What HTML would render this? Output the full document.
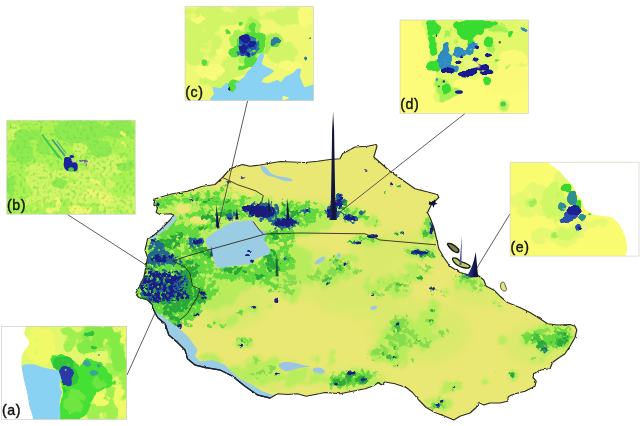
<!DOCTYPE html>
<html lang="en"><head><meta charset="utf-8"><title>Population density map</title>
<style>
html,body{margin:0;padding:0;background:#fff;}
body{width:640px;height:426px;overflow:hidden;font-family:"Liberation Sans",sans-serif;}
svg{display:block;}
svg text{font-family:"Liberation Sans",sans-serif;fill:#111;}
</style></head><body>
<svg width="640" height="426" viewBox="0 0 640 426">
<defs>
<clipPath id="mapclip"><polygon points="155.0,198.8 172.5,193.8 187.5,191.2 202.5,186.2 215.0,184.5 222.5,177.5 230.0,168.8 242.5,164.5 250.0,166.2 260.0,165.0 280.0,161.5 305.0,162.5 317.5,161.2 330.0,159.5 340.0,158.8 342.5,153.8 355.0,147.0 367.5,146.2 376.2,144.5 377.0,146.2 373.8,157.0 390.0,171.2 415.0,188.8 437.5,194.5 438.8,197.5 435.0,201.2 431.2,205.0 427.5,212.5 430.0,217.5 433.8,227.5 437.5,242.5 438.8,248.8 443.8,257.5 450.0,266.2 460.0,272.5 467.5,274.5 477.5,275.0 483.8,280.0 486.2,286.2 493.8,290.0 500.0,296.2 507.5,302.5 515.0,305.5 522.5,308.8 530.0,312.5 540.0,318.8 547.5,323.8 557.5,325.0 570.0,324.5 575.0,326.2 576.8,330.0 575.0,337.5 570.0,346.2 565.0,353.8 557.5,358.8 552.5,362.5 550.0,368.8 540.0,370.0 533.8,373.8 533.0,377.5 536.2,381.2 535.0,386.2 525.0,391.2 515.0,393.8 508.8,396.2 507.5,401.2 500.0,403.0 490.0,403.0 483.8,405.0 478.8,402.5 476.2,407.5 470.0,413.0 460.0,416.2 453.8,420.0 445.0,416.2 435.0,412.5 426.2,407.5 418.8,400.0 412.5,392.5 406.2,387.5 395.0,383.8 385.0,382.0 381.2,385.0 378.8,382.5 372.5,386.2 365.0,388.8 352.5,391.2 340.0,393.8 325.0,392.5 315.0,394.5 306.2,396.2 297.5,393.8 287.5,394.5 277.5,393.8 271.2,397.5 270.0,398.0 257.5,395.0 245.0,386.2 232.5,376.2 220.0,370.0 205.0,367.5 195.0,365.0 187.5,358.8 185.0,350.0 177.5,342.5 168.8,335.0 165.0,323.8 157.5,317.5 152.5,307.5 152.5,305.0 147.5,300.0 138.8,297.5 135.5,293.8 140.0,285.0 143.8,277.5 146.2,265.0 147.5,257.5 145.0,250.0 146.2,245.0 147.5,238.8 152.5,236.2 160.0,230.0 165.0,225.0 170.0,220.0 173.8,215.0 170.0,213.8 160.0,214.5 156.2,212.5 157.5,207.5 153.8,205.0"/></clipPath>
<filter id="b05" x="-30%" y="-30%" width="160%" height="160%"><feGaussianBlur stdDeviation="0.5"/></filter>
<filter id="b1" x="-30%" y="-30%" width="160%" height="160%"><feGaussianBlur stdDeviation="1"/></filter>
<filter id="b2" x="-40%" y="-40%" width="180%" height="180%"><feGaussianBlur stdDeviation="2"/></filter>
<filter id="b3" x="-50%" y="-50%" width="200%" height="200%"><feGaussianBlur stdDeviation="3"/></filter>
<filter id="b5" x="-60%" y="-60%" width="220%" height="220%"><feGaussianBlur stdDeviation="5"/></filter>
<filter id="spot" x="0" y="0" width="640" height="426" filterUnits="userSpaceOnUse">
<feTurbulence type="fractalNoise" baseFrequency="0.35" numOctaves="2" seed="8" result="n"/>
<feDisplacementMap in="SourceGraphic" in2="n" scale="3" xChannelSelector="R" yChannelSelector="G" result="d"/>
<feGaussianBlur in="d" stdDeviation="0.45"/>
</filter>
<filter id="wig" x="0" y="0" width="640" height="426" filterUnits="userSpaceOnUse">
<feTurbulence type="fractalNoise" baseFrequency="0.25" numOctaves="2" seed="4" result="n"/>
<feDisplacementMap in="SourceGraphic" in2="n" scale="2.2" xChannelSelector="R" yChannelSelector="G"/>
</filter>
<linearGradient id="sg" x1="0" y1="0" x2="1" y2="0"><stop offset="0" stop-color="#26347c"/><stop offset="0.5" stop-color="#0e1232"/><stop offset="1" stop-color="#161e54"/></linearGradient>
<linearGradient id="sg2" x1="0" y1="0" x2="1" y2="0"><stop offset="0" stop-color="#2c4aa0"/><stop offset="0.6" stop-color="#121a50"/><stop offset="1" stop-color="#0c1030"/></linearGradient>
<clipPath id="c_a"><rect x="1.60" y="326.30" width="125.10" height="93.00"/></clipPath>
<filter id="grain_b" x="0" y="0" width="640" height="426" filterUnits="userSpaceOnUse" color-interpolation-filters="sRGB">
<feTurbulence type="fractalNoise" baseFrequency="0.3" numOctaves="2" seed="9" result="n"/>
<feColorMatrix in="n" type="matrix" values="0 0 0 0 0.45  0 0 0 0 0.84  0 0 0 0 0.30  2.5 0 0 0 -1.3" result="c"/>
<feComposite in="c" in2="SourceAlpha" operator="in"/>
</filter>
<clipPath id="c_b"><rect x="6.75" y="120.25" width="128.50" height="94.00"/></clipPath>
<clipPath id="c_c"><rect x="185.00" y="6.50" width="128.50" height="94.00"/></clipPath>
<clipPath id="c_d"><rect x="400.00" y="20.00" width="128.50" height="93.40"/></clipPath>
<clipPath id="c_e"><rect x="510.10" y="162.20" width="128.90" height="93.90"/></clipPath>
<filter id="m1" x="0" y="0" width="640" height="426" filterUnits="userSpaceOnUse" color-interpolation-filters="sRGB">
<feGaussianBlur in="SourceAlpha" stdDeviation="2.5" result="a"/>
<feTurbulence type="fractalNoise" baseFrequency="0.1" numOctaves="3" seed="2" result="n"/>
<feColorMatrix in="n" type="matrix" values="0 0 0 0 0  0 0 0 0 0  0 0 0 0 0  1 0 0 0 0" result="na"/>
<feComposite in="a" in2="na" operator="arithmetic" k1="0" k2="0.3846" k3="0.6154" k4="0" result="s"/>
<feColorMatrix in="s" type="matrix" values="0 0 0 0 0  0 0 0 0 0  0 0 0 0 0  0 0 0 7.8000 -3.7000" result="m"/>
<feColorMatrix in="a" type="matrix" values="0 0 0 0 0  0 0 0 0 0  0 0 0 0 0  0 0 0 5 -0.4" result="g"/>
<feComposite in="m" in2="g" operator="in" result="mg"/>
<feMorphology in="SourceGraphic" operator="dilate" radius="2" result="d"/>
<feComponentTransfer in="d" result="c"><feFuncA type="linear" slope="200" intercept="0"/></feComponentTransfer>
<feComposite in="c" in2="mg" operator="in" result="cm"/>
<feGaussianBlur in="cm" stdDeviation="0.9"/>
</filter>
<filter id="my" x="0" y="0" width="640" height="426" filterUnits="userSpaceOnUse" color-interpolation-filters="sRGB">
<feGaussianBlur in="SourceAlpha" stdDeviation="2" result="a"/>
<feTurbulence type="fractalNoise" baseFrequency="0.12" numOctaves="3" seed="5" result="n"/>
<feColorMatrix in="n" type="matrix" values="0 0 0 0 0  0 0 0 0 0  0 0 0 0 0  1 0 0 0 0" result="na"/>
<feComposite in="a" in2="na" operator="arithmetic" k1="0" k2="0.4167" k3="0.5833" k4="0" result="s"/>
<feColorMatrix in="s" type="matrix" values="0 0 0 0 0  0 0 0 0 0  0 0 0 0 0  0 0 0 9.6000 -4.7000" result="m"/>
<feColorMatrix in="a" type="matrix" values="0 0 0 0 0  0 0 0 0 0  0 0 0 0 0  0 0 0 5 -0.4" result="g"/>
<feComposite in="m" in2="g" operator="in" result="mg"/>
<feMorphology in="SourceGraphic" operator="dilate" radius="2" result="d"/>
<feComponentTransfer in="d" result="c"><feFuncA type="linear" slope="200" intercept="0"/></feComponentTransfer>
<feComposite in="c" in2="mg" operator="in" result="cm"/>
<feGaussianBlur in="cm" stdDeviation="0.7"/>
</filter>
<filter id="m2" x="0" y="0" width="640" height="426" filterUnits="userSpaceOnUse" color-interpolation-filters="sRGB">
<feGaussianBlur in="SourceAlpha" stdDeviation="2.0" result="a"/>
<feTurbulence type="fractalNoise" baseFrequency="0.2" numOctaves="3" seed="7" result="n"/>
<feColorMatrix in="n" type="matrix" values="0 0 0 0 0  0 0 0 0 0  0 0 0 0 0  1 0 0 0 0" result="na"/>
<feComposite in="a" in2="na" operator="arithmetic" k1="0" k2="0.3333" k3="0.6667" k4="0" result="s"/>
<feColorMatrix in="s" type="matrix" values="0 0 0 0 0  0 0 0 0 0  0 0 0 0 0  0 0 0 12.0000 -6.1000" result="m"/>
<feColorMatrix in="a" type="matrix" values="0 0 0 0 0  0 0 0 0 0  0 0 0 0 0  0 0 0 5 -0.4" result="g"/>
<feComposite in="m" in2="g" operator="in" result="mg"/>
<feMorphology in="SourceGraphic" operator="dilate" radius="2" result="d"/>
<feComponentTransfer in="d" result="c"><feFuncA type="linear" slope="200" intercept="0"/></feComponentTransfer>
<feComposite in="c" in2="mg" operator="in" result="cm"/>
<feGaussianBlur in="cm" stdDeviation="0.6"/>
</filter>
<filter id="m3" x="0" y="0" width="640" height="426" filterUnits="userSpaceOnUse" color-interpolation-filters="sRGB">
<feGaussianBlur in="SourceAlpha" stdDeviation="1.6" result="a"/>
<feTurbulence type="fractalNoise" baseFrequency="0.25" numOctaves="3" seed="11" result="n"/>
<feColorMatrix in="n" type="matrix" values="0 0 0 0 0  0 0 0 0 0  0 0 0 0 0  1 0 0 0 0" result="na"/>
<feComposite in="a" in2="na" operator="arithmetic" k1="0" k2="0.3333" k3="0.6667" k4="0" result="s"/>
<feColorMatrix in="s" type="matrix" values="0 0 0 0 0  0 0 0 0 0  0 0 0 0 0  0 0 0 12.0000 -6.1000" result="m"/>
<feColorMatrix in="a" type="matrix" values="0 0 0 0 0  0 0 0 0 0  0 0 0 0 0  0 0 0 5 -0.4" result="g"/>
<feComposite in="m" in2="g" operator="in" result="mg"/>
<feMorphology in="SourceGraphic" operator="dilate" radius="2" result="d"/>
<feComponentTransfer in="d" result="c"><feFuncA type="linear" slope="200" intercept="0"/></feComponentTransfer>
<feComposite in="c" in2="mg" operator="in" result="cm"/>
<feGaussianBlur in="cm" stdDeviation="0.5"/>
</filter>
<filter id="m4" x="0" y="0" width="640" height="426" filterUnits="userSpaceOnUse" color-interpolation-filters="sRGB">
<feGaussianBlur in="SourceAlpha" stdDeviation="1.5" result="a"/>
<feTurbulence type="fractalNoise" baseFrequency="0.25" numOctaves="3" seed="13" result="n"/>
<feColorMatrix in="n" type="matrix" values="0 0 0 0 0  0 0 0 0 0  0 0 0 0 0  1 0 0 0 0" result="na"/>
<feComposite in="a" in2="na" operator="arithmetic" k1="0" k2="0.3333" k3="0.6667" k4="0" result="s"/>
<feColorMatrix in="s" type="matrix" values="0 0 0 0 0  0 0 0 0 0  0 0 0 0 0  0 0 0 12.0000 -6.1000" result="m"/>
<feColorMatrix in="a" type="matrix" values="0 0 0 0 0  0 0 0 0 0  0 0 0 0 0  0 0 0 5 -0.4" result="g"/>
<feComposite in="m" in2="g" operator="in" result="mg"/>
<feMorphology in="SourceGraphic" operator="dilate" radius="2" result="d"/>
<feComponentTransfer in="d" result="c"><feFuncA type="linear" slope="200" intercept="0"/></feComponentTransfer>
<feComposite in="c" in2="mg" operator="in" result="cm"/>
<feGaussianBlur in="cm" stdDeviation="0.5"/>
</filter>
<filter id="m5" x="0" y="0" width="640" height="426" filterUnits="userSpaceOnUse" color-interpolation-filters="sRGB">
<feGaussianBlur in="SourceAlpha" stdDeviation="1.0" result="a"/>
<feTurbulence type="fractalNoise" baseFrequency="0.3" numOctaves="3" seed="17" result="n"/>
<feColorMatrix in="n" type="matrix" values="0 0 0 0 0  0 0 0 0 0  0 0 0 0 0  1 0 0 0 0" result="na"/>
<feComposite in="a" in2="na" operator="arithmetic" k1="0" k2="0.3846" k3="0.6154" k4="0" result="s"/>
<feColorMatrix in="s" type="matrix" values="0 0 0 0 0  0 0 0 0 0  0 0 0 0 0  0 0 0 13.0000 -6.9000" result="m"/>
<feColorMatrix in="a" type="matrix" values="0 0 0 0 0  0 0 0 0 0  0 0 0 0 0  0 0 0 5 -0.4" result="g"/>
<feComposite in="m" in2="g" operator="in" result="mg"/>
<feMorphology in="SourceGraphic" operator="dilate" radius="2" result="d"/>
<feComponentTransfer in="d" result="c"><feFuncA type="linear" slope="200" intercept="0"/></feComponentTransfer>
<feComposite in="c" in2="mg" operator="in" result="cm"/>
<feGaussianBlur in="cm" stdDeviation="0.4"/>
</filter>
<filter id="i_lime" x="0" y="0" width="640" height="426" filterUnits="userSpaceOnUse" color-interpolation-filters="sRGB">
<feGaussianBlur in="SourceAlpha" stdDeviation="2.5" result="a"/>
<feTurbulence type="fractalNoise" baseFrequency="0.07" numOctaves="3" seed="21" result="n"/>
<feColorMatrix in="n" type="matrix" values="0 0 0 0 0  0 0 0 0 0  0 0 0 0 0  1 0 0 0 0" result="na"/>
<feComposite in="a" in2="na" operator="arithmetic" k1="0" k2="0.4348" k3="0.5652" k4="0" result="s"/>
<feColorMatrix in="s" type="matrix" values="0 0 0 0 0  0 0 0 0 0  0 0 0 0 0  0 0 0 11.5000 -5.2500" result="m"/>
<feColorMatrix in="a" type="matrix" values="0 0 0 0 0  0 0 0 0 0  0 0 0 0 0  0 0 0 5 -0.4" result="g"/>
<feComposite in="m" in2="g" operator="in" result="mg"/>
<feMorphology in="SourceGraphic" operator="dilate" radius="2" result="d"/>
<feComponentTransfer in="d" result="c"><feFuncA type="linear" slope="200" intercept="0"/></feComponentTransfer>
<feComposite in="c" in2="mg" operator="in" result="cm"/>
<feGaussianBlur in="cm" stdDeviation="0.6"/>
</filter>
<filter id="i_lgreen" x="0" y="0" width="640" height="426" filterUnits="userSpaceOnUse" color-interpolation-filters="sRGB">
<feGaussianBlur in="SourceAlpha" stdDeviation="2" result="a"/>
<feTurbulence type="fractalNoise" baseFrequency="0.09" numOctaves="3" seed="23" result="n"/>
<feColorMatrix in="n" type="matrix" values="0 0 0 0 0  0 0 0 0 0  0 0 0 0 0  1 0 0 0 0" result="na"/>
<feComposite in="a" in2="na" operator="arithmetic" k1="0" k2="0.4348" k3="0.5652" k4="0" result="s"/>
<feColorMatrix in="s" type="matrix" values="0 0 0 0 0  0 0 0 0 0  0 0 0 0 0  0 0 0 11.5000 -5.2500" result="m"/>
<feColorMatrix in="a" type="matrix" values="0 0 0 0 0  0 0 0 0 0  0 0 0 0 0  0 0 0 5 -0.4" result="g"/>
<feComposite in="m" in2="g" operator="in" result="mg"/>
<feMorphology in="SourceGraphic" operator="dilate" radius="2" result="d"/>
<feComponentTransfer in="d" result="c"><feFuncA type="linear" slope="200" intercept="0"/></feComponentTransfer>
<feComposite in="c" in2="mg" operator="in" result="cm"/>
<feGaussianBlur in="cm" stdDeviation="0.6"/>
</filter>
<filter id="i_green" x="0" y="0" width="640" height="426" filterUnits="userSpaceOnUse" color-interpolation-filters="sRGB">
<feGaussianBlur in="SourceAlpha" stdDeviation="1.5" result="a"/>
<feTurbulence type="fractalNoise" baseFrequency="0.12" numOctaves="3" seed="29" result="n"/>
<feColorMatrix in="n" type="matrix" values="0 0 0 0 0  0 0 0 0 0  0 0 0 0 0  1 0 0 0 0" result="na"/>
<feComposite in="a" in2="na" operator="arithmetic" k1="0" k2="0.4348" k3="0.5652" k4="0" result="s"/>
<feColorMatrix in="s" type="matrix" values="0 0 0 0 0  0 0 0 0 0  0 0 0 0 0  0 0 0 13.8000 -6.4000" result="m"/>
<feColorMatrix in="a" type="matrix" values="0 0 0 0 0  0 0 0 0 0  0 0 0 0 0  0 0 0 5 -0.4" result="g"/>
<feComposite in="m" in2="g" operator="in" result="mg"/>
<feMorphology in="SourceGraphic" operator="dilate" radius="2" result="d"/>
<feComponentTransfer in="d" result="c"><feFuncA type="linear" slope="200" intercept="0"/></feComponentTransfer>
<feComposite in="c" in2="mg" operator="in" result="cm"/>
<feGaussianBlur in="cm" stdDeviation="0.5"/>
</filter>
<filter id="i_dgreen" x="0" y="0" width="640" height="426" filterUnits="userSpaceOnUse" color-interpolation-filters="sRGB">
<feGaussianBlur in="SourceAlpha" stdDeviation="1.2" result="a"/>
<feTurbulence type="fractalNoise" baseFrequency="0.15" numOctaves="3" seed="31" result="n"/>
<feColorMatrix in="n" type="matrix" values="0 0 0 0 0  0 0 0 0 0  0 0 0 0 0  1 0 0 0 0" result="na"/>
<feComposite in="a" in2="na" operator="arithmetic" k1="0" k2="0.4348" k3="0.5652" k4="0" result="s"/>
<feColorMatrix in="s" type="matrix" values="0 0 0 0 0  0 0 0 0 0  0 0 0 0 0  0 0 0 13.8000 -6.4000" result="m"/>
<feColorMatrix in="a" type="matrix" values="0 0 0 0 0  0 0 0 0 0  0 0 0 0 0  0 0 0 5 -0.4" result="g"/>
<feComposite in="m" in2="g" operator="in" result="mg"/>
<feMorphology in="SourceGraphic" operator="dilate" radius="2" result="d"/>
<feComponentTransfer in="d" result="c"><feFuncA type="linear" slope="200" intercept="0"/></feComponentTransfer>
<feComposite in="c" in2="mg" operator="in" result="cm"/>
<feGaussianBlur in="cm" stdDeviation="0.5"/>
</filter>
<filter id="i_teal" x="0" y="0" width="640" height="426" filterUnits="userSpaceOnUse" color-interpolation-filters="sRGB">
<feGaussianBlur in="SourceAlpha" stdDeviation="1.0" result="a"/>
<feTurbulence type="fractalNoise" baseFrequency="0.15" numOctaves="3" seed="37" result="n"/>
<feColorMatrix in="n" type="matrix" values="0 0 0 0 0  0 0 0 0 0  0 0 0 0 0  1 0 0 0 0" result="na"/>
<feComposite in="a" in2="na" operator="arithmetic" k1="0" k2="0.4545" k3="0.5455" k4="0" result="s"/>
<feColorMatrix in="s" type="matrix" values="0 0 0 0 0  0 0 0 0 0  0 0 0 0 0  0 0 0 13.2000 -6.1000" result="m"/>
<feColorMatrix in="a" type="matrix" values="0 0 0 0 0  0 0 0 0 0  0 0 0 0 0  0 0 0 5 -0.4" result="g"/>
<feComposite in="m" in2="g" operator="in" result="mg"/>
<feMorphology in="SourceGraphic" operator="dilate" radius="2" result="d"/>
<feComponentTransfer in="d" result="c"><feFuncA type="linear" slope="200" intercept="0"/></feComponentTransfer>
<feComposite in="c" in2="mg" operator="in" result="cm"/>
<feGaussianBlur in="cm" stdDeviation="0.4"/>
</filter>
<filter id="i_blue" x="0" y="0" width="640" height="426" filterUnits="userSpaceOnUse" color-interpolation-filters="sRGB">
<feGaussianBlur in="SourceAlpha" stdDeviation="1.0" result="a"/>
<feTurbulence type="fractalNoise" baseFrequency="0.15" numOctaves="3" seed="41" result="n"/>
<feColorMatrix in="n" type="matrix" values="0 0 0 0 0  0 0 0 0 0  0 0 0 0 0  1 0 0 0 0" result="na"/>
<feComposite in="a" in2="na" operator="arithmetic" k1="0" k2="0.4545" k3="0.5455" k4="0" result="s"/>
<feColorMatrix in="s" type="matrix" values="0 0 0 0 0  0 0 0 0 0  0 0 0 0 0  0 0 0 13.2000 -6.1000" result="m"/>
<feColorMatrix in="a" type="matrix" values="0 0 0 0 0  0 0 0 0 0  0 0 0 0 0  0 0 0 5 -0.4" result="g"/>
<feComposite in="m" in2="g" operator="in" result="mg"/>
<feMorphology in="SourceGraphic" operator="dilate" radius="2" result="d"/>
<feComponentTransfer in="d" result="c"><feFuncA type="linear" slope="200" intercept="0"/></feComponentTransfer>
<feComposite in="c" in2="mg" operator="in" result="cm"/>
<feGaussianBlur in="cm" stdDeviation="0.4"/>
</filter>
<filter id="i_navy" x="0" y="0" width="640" height="426" filterUnits="userSpaceOnUse" color-interpolation-filters="sRGB">
<feGaussianBlur in="SourceAlpha" stdDeviation="0.8" result="a"/>
<feTurbulence type="fractalNoise" baseFrequency="0.2" numOctaves="3" seed="43" result="n"/>
<feColorMatrix in="n" type="matrix" values="0 0 0 0 0  0 0 0 0 0  0 0 0 0 0  1 0 0 0 0" result="na"/>
<feComposite in="a" in2="na" operator="arithmetic" k1="0" k2="0.4762" k3="0.5238" k4="0" result="s"/>
<feColorMatrix in="s" type="matrix" values="0 0 0 0 0  0 0 0 0 0  0 0 0 0 0  0 0 0 12.6000 -5.8000" result="m"/>
<feColorMatrix in="a" type="matrix" values="0 0 0 0 0  0 0 0 0 0  0 0 0 0 0  0 0 0 5 -0.4" result="g"/>
<feComposite in="m" in2="g" operator="in" result="mg"/>
<feMorphology in="SourceGraphic" operator="dilate" radius="2" result="d"/>
<feComponentTransfer in="d" result="c"><feFuncA type="linear" slope="200" intercept="0"/></feComponentTransfer>
<feComposite in="c" in2="mg" operator="in" result="cm"/>
<feGaussianBlur in="cm" stdDeviation="0.4"/>
</filter>
<filter id="i_yel" x="0" y="0" width="640" height="426" filterUnits="userSpaceOnUse" color-interpolation-filters="sRGB">
<feGaussianBlur in="SourceAlpha" stdDeviation="1.5" result="a"/>
<feTurbulence type="fractalNoise" baseFrequency="0.1" numOctaves="3" seed="47" result="n"/>
<feColorMatrix in="n" type="matrix" values="0 0 0 0 0  0 0 0 0 0  0 0 0 0 0  1 0 0 0 0" result="na"/>
<feComposite in="a" in2="na" operator="arithmetic" k1="0" k2="0.4348" k3="0.5652" k4="0" result="s"/>
<feColorMatrix in="s" type="matrix" values="0 0 0 0 0  0 0 0 0 0  0 0 0 0 0  0 0 0 13.8000 -6.4000" result="m"/>
<feColorMatrix in="a" type="matrix" values="0 0 0 0 0  0 0 0 0 0  0 0 0 0 0  0 0 0 5 -0.4" result="g"/>
<feComposite in="m" in2="g" operator="in" result="mg"/>
<feMorphology in="SourceGraphic" operator="dilate" radius="2" result="d"/>
<feComponentTransfer in="d" result="c"><feFuncA type="linear" slope="200" intercept="0"/></feComponentTransfer>
<feComposite in="c" in2="mg" operator="in" result="cm"/>
<feGaussianBlur in="cm" stdDeviation="0.5"/>
</filter>
<filter id="i_water" x="0" y="0" width="640" height="426" filterUnits="userSpaceOnUse" color-interpolation-filters="sRGB">
<feGaussianBlur in="SourceAlpha" stdDeviation="0.8" result="a"/>
<feTurbulence type="fractalNoise" baseFrequency="0.12" numOctaves="3" seed="53" result="n"/>
<feColorMatrix in="n" type="matrix" values="0 0 0 0 0  0 0 0 0 0  0 0 0 0 0  1 0 0 0 0" result="na"/>
<feComposite in="a" in2="na" operator="arithmetic" k1="0" k2="0.6250" k3="0.3750" k4="0" result="s"/>
<feColorMatrix in="s" type="matrix" values="0 0 0 0 0  0 0 0 0 0  0 0 0 0 0  0 0 0 12.8000 -5.9000" result="m"/>
<feColorMatrix in="a" type="matrix" values="0 0 0 0 0  0 0 0 0 0  0 0 0 0 0  0 0 0 5 -0.4" result="g"/>
<feComposite in="m" in2="g" operator="in" result="mg"/>
<feMorphology in="SourceGraphic" operator="dilate" radius="2" result="d"/>
<feComponentTransfer in="d" result="c"><feFuncA type="linear" slope="200" intercept="0"/></feComponentTransfer>
<feComposite in="c" in2="mg" operator="in" result="cm"/>
<feGaussianBlur in="cm" stdDeviation="0.4"/>
</filter>
</defs>
<rect width="640" height="426" fill="#ffffff"/>
<g clip-path="url(#mapclip)">
<polygon points="155.0,198.8 172.5,193.8 187.5,191.2 202.5,186.2 215.0,184.5 222.5,177.5 230.0,168.8 242.5,164.5 250.0,166.2 260.0,165.0 280.0,161.5 305.0,162.5 317.5,161.2 330.0,159.5 340.0,158.8 342.5,153.8 355.0,147.0 367.5,146.2 376.2,144.5 377.0,146.2 373.8,157.0 390.0,171.2 415.0,188.8 437.5,194.5 438.8,197.5 435.0,201.2 431.2,205.0 427.5,212.5 430.0,217.5 433.8,227.5 437.5,242.5 438.8,248.8 443.8,257.5 450.0,266.2 460.0,272.5 467.5,274.5 477.5,275.0 483.8,280.0 486.2,286.2 493.8,290.0 500.0,296.2 507.5,302.5 515.0,305.5 522.5,308.8 530.0,312.5 540.0,318.8 547.5,323.8 557.5,325.0 570.0,324.5 575.0,326.2 576.8,330.0 575.0,337.5 570.0,346.2 565.0,353.8 557.5,358.8 552.5,362.5 550.0,368.8 540.0,370.0 533.8,373.8 533.0,377.5 536.2,381.2 535.0,386.2 525.0,391.2 515.0,393.8 508.8,396.2 507.5,401.2 500.0,403.0 490.0,403.0 483.8,405.0 478.8,402.5 476.2,407.5 470.0,413.0 460.0,416.2 453.8,420.0 445.0,416.2 435.0,412.5 426.2,407.5 418.8,400.0 412.5,392.5 406.2,387.5 395.0,383.8 385.0,382.0 381.2,385.0 378.8,382.5 372.5,386.2 365.0,388.8 352.5,391.2 340.0,393.8 325.0,392.5 315.0,394.5 306.2,396.2 297.5,393.8 287.5,394.5 277.5,393.8 271.2,397.5 270.0,398.0 257.5,395.0 245.0,386.2 232.5,376.2 220.0,370.0 205.0,367.5 195.0,365.0 187.5,358.8 185.0,350.0 177.5,342.5 168.8,335.0 165.0,323.8 157.5,317.5 152.5,307.5 152.5,305.0 147.5,300.0 138.8,297.5 135.5,293.8 140.0,285.0 143.8,277.5 146.2,265.0 147.5,257.5 145.0,250.0 146.2,245.0 147.5,238.8 152.5,236.2 160.0,230.0 165.0,225.0 170.0,220.0 173.8,215.0 170.0,213.8 160.0,214.5 156.2,212.5 157.5,207.5 153.8,205.0" fill="#eae874" />
<g filter="url(#b5)" fill="#c4ec62" opacity="0.4">
<ellipse cx="400.0" cy="250.0" rx="50.0" ry="18.0" fill="#c4ec62" />
<ellipse cx="360.0" cy="290.0" rx="50.0" ry="28.0" fill="#c4ec62" />
<ellipse cx="420.0" cy="332.0" rx="50.0" ry="32.0" fill="#c4ec62" />
<ellipse cx="540.0" cy="345.0" rx="35.0" ry="22.0" fill="#c4ec62" />
<ellipse cx="350.0" cy="380.0" rx="40.0" ry="12.0" fill="#c4ec62" />
<ellipse cx="270.0" cy="376.0" rx="40.0" ry="16.0" fill="#c4ec62" />
<ellipse cx="300.0" cy="272.0" rx="40.0" ry="28.0" fill="#c4ec62" />
<ellipse cx="480.0" cy="292.0" rx="30.0" ry="14.0" fill="#c4ec62" />
<ellipse cx="230.0" cy="300.0" rx="40.0" ry="30.0" fill="#c4ec62" />
<ellipse cx="200.0" cy="205.0" rx="50.0" ry="15.0" fill="#c4ec62" />
<ellipse cx="300.0" cy="215.0" rx="60.0" ry="14.0" fill="#c4ec62" />
</g>
<g filter="url(#m1)" opacity="1">
<ellipse cx="170.0" cy="202.5" rx="17.5" ry="6.2" fill="#b8ec5c" fill-opacity="0.7"/>
<ellipse cx="202.5" cy="197.5" rx="30.0" ry="10.0" fill="#b8ec5c" fill-opacity="0.7999999999999999"/>
<ellipse cx="245.0" cy="200.0" rx="30.0" ry="8.8" fill="#b8ec5c" fill-opacity="0.7999999999999999"/>
<ellipse cx="195.0" cy="227.5" rx="37.5" ry="15.0" fill="#b8ec5c" fill-opacity="0.7999999999999999"/>
<ellipse cx="165.0" cy="237.5" rx="20.0" ry="10.0" fill="#b8ec5c" fill-opacity="0.7999999999999999"/>
<ellipse cx="270.0" cy="235.0" rx="12.5" ry="12.5" fill="#b8ec5c" fill-opacity="0.7999999999999999"/>
<ellipse cx="290.0" cy="212.5" rx="12.5" ry="12.5" fill="#b8ec5c" fill-opacity="0.7999999999999999"/>
<ellipse cx="312.5" cy="208.8" rx="17.5" ry="8.8" fill="#b8ec5c" fill-opacity="0.7999999999999999"/>
<ellipse cx="355.0" cy="215.0" rx="27.5" ry="8.8" fill="#b8ec5c" transform="rotate(15 355.0 215.0)" fill-opacity="0.7999999999999999"/>
<ellipse cx="367.5" cy="240.0" rx="20.0" ry="6.2" fill="#b8ec5c" fill-opacity="0.7999999999999999"/>
<ellipse cx="430.0" cy="225.0" rx="7.5" ry="12.5" fill="#b8ec5c" fill-opacity="0.7999999999999999"/>
<ellipse cx="397.5" cy="233.8" rx="6.2" ry="3.0" fill="#b8ec5c" fill-opacity="0.7999999999999999"/>
<ellipse cx="170.0" cy="288.5" rx="30.0" ry="40.0" fill="#b8ec5c" fill-opacity="0.7999999999999999"/>
<ellipse cx="240.0" cy="276.0" rx="40.0" ry="15.0" fill="#b8ec5c" fill-opacity="0.7999999999999999"/>
<ellipse cx="270.0" cy="266.0" rx="12.5" ry="20.0" fill="#b8ec5c" fill-opacity="0.7999999999999999"/>
<ellipse cx="227.5" cy="321.0" rx="15.0" ry="6.2" fill="#b8ec5c" fill-opacity="0.7999999999999999"/>
<ellipse cx="242.5" cy="341.0" rx="10.0" ry="5.5" fill="#b8ec5c" fill-opacity="0.7999999999999999"/>
<ellipse cx="250.0" cy="311.0" rx="10.0" ry="3.8" fill="#b8ec5c" fill-opacity="0.7999999999999999"/>
<ellipse cx="290.0" cy="276.0" rx="15.0" ry="27.5" fill="#b8ec5c" fill-opacity="0.75"/>
<ellipse cx="332.5" cy="271.0" rx="30.0" ry="15.0" fill="#b8ec5c" transform="rotate(-20 332.5 271.0)" fill-opacity="0.75"/>
<ellipse cx="387.5" cy="286.0" rx="27.5" ry="12.5" fill="#b8ec5c" fill-opacity="0.75"/>
<ellipse cx="415.0" cy="331.0" rx="25.0" ry="20.0" fill="#b8ec5c" fill-opacity="0.75"/>
<ellipse cx="422.5" cy="253.5" rx="15.0" ry="6.2" fill="#b8ec5c" fill-opacity="0.75"/>
<ellipse cx="432.5" cy="308.5" rx="7.5" ry="10.0" fill="#b8ec5c" fill-opacity="0.75"/>
<ellipse cx="470.0" cy="283.5" rx="20.0" ry="10.0" fill="#b8ec5c" fill-opacity="0.75"/>
<ellipse cx="547.5" cy="338.5" rx="27.5" ry="13.8" fill="#b8ec5c" fill-opacity="0.75"/>
<ellipse cx="500.0" cy="304.8" rx="8.8" ry="5.0" fill="#b8ec5c" fill-opacity="0.75"/>
<ellipse cx="445.0" cy="293.5" rx="6.2" ry="6.2" fill="#b8ec5c" fill-opacity="0.75"/>
<ellipse cx="445.0" cy="333.5" rx="7.5" ry="3.8" fill="#b8ec5c" fill-opacity="0.75"/>
<ellipse cx="500.0" cy="340.5" rx="6.2" ry="3.8" fill="#b8ec5c" fill-opacity="0.75"/>
<ellipse cx="245.0" cy="342.5" rx="11.2" ry="6.2" fill="#b8ec5c" fill-opacity="0.75"/>
<ellipse cx="225.0" cy="365.0" rx="30.0" ry="6.2" fill="#b8ec5c" transform="rotate(20 225.0 365.0)" fill-opacity="0.75"/>
<ellipse cx="260.0" cy="375.0" rx="15.0" ry="10.0" fill="#b8ec5c" fill-opacity="0.75"/>
<ellipse cx="250.0" cy="308.8" rx="7.5" ry="3.8" fill="#b8ec5c" fill-opacity="0.75"/>
<ellipse cx="270.0" cy="305.0" rx="7.5" ry="3.8" fill="#b8ec5c" fill-opacity="0.75"/>
<ellipse cx="262.5" cy="362.5" rx="17.5" ry="7.5" fill="#b8ec5c" fill-opacity="0.75"/>
<ellipse cx="290.0" cy="378.8" rx="17.5" ry="6.2" fill="#b8ec5c" fill-opacity="0.75"/>
<ellipse cx="352.5" cy="380.0" rx="25.0" ry="11.2" fill="#b8ec5c" fill-opacity="0.75"/>
<ellipse cx="385.0" cy="350.0" rx="17.5" ry="15.0" fill="#b8ec5c" fill-opacity="0.75"/>
<ellipse cx="245.0" cy="341.2" rx="7.5" ry="5.5" fill="#b8ec5c" fill-opacity="0.75"/>
<ellipse cx="322.5" cy="380.0" rx="10.0" ry="5.0" fill="#b8ec5c" fill-opacity="0.75"/>
<ellipse cx="405.0" cy="335.0" rx="25.0" ry="15.0" fill="#b8ec5c" fill-opacity="0.7"/>
<ellipse cx="395.0" cy="357.5" rx="15.0" ry="12.5" fill="#b8ec5c" fill-opacity="0.7"/>
<ellipse cx="370.0" cy="377.5" rx="15.0" ry="10.0" fill="#b8ec5c" fill-opacity="0.7"/>
<ellipse cx="440.0" cy="400.0" rx="15.0" ry="12.5" fill="#b8ec5c" fill-opacity="0.7"/>
<ellipse cx="455.0" cy="385.0" rx="7.5" ry="5.0" fill="#b8ec5c" fill-opacity="0.7"/>
<ellipse cx="501.2" cy="338.8" rx="6.2" ry="3.8" fill="#b8ec5c" fill-opacity="0.7"/>
<ellipse cx="511.2" cy="375.0" rx="4.5" ry="5.5" fill="#b8ec5c" fill-opacity="0.7"/>
<ellipse cx="485.0" cy="382.5" rx="6.2" ry="3.8" fill="#b8ec5c" fill-opacity="0.7"/>
<ellipse cx="500.0" cy="306.2" rx="7.5" ry="3.8" fill="#b8ec5c" fill-opacity="0.7"/>
<ellipse cx="500.0" cy="340.0" rx="6.2" ry="3.8" fill="#b8ec5c" fill-opacity="0.7"/>
<ellipse cx="512.5" cy="375.0" rx="6.2" ry="6.2" fill="#b8ec5c" fill-opacity="0.7"/>
<ellipse cx="485.0" cy="382.5" rx="6.2" ry="4.5" fill="#b8ec5c" fill-opacity="0.7"/>
<ellipse cx="452.5" cy="386.2" rx="10.0" ry="6.2" fill="#b8ec5c" fill-opacity="0.7"/>
<ellipse cx="535.0" cy="360.0" rx="10.0" ry="3.8" fill="#b8ec5c" fill-opacity="0.7"/>
<ellipse cx="427.5" cy="230.0" rx="8.8" ry="13.8" fill="#b8ec5c" fill-opacity="0.75"/>
<ellipse cx="420.0" cy="252.5" rx="17.5" ry="7.5" fill="#b8ec5c" fill-opacity="0.75"/>
<ellipse cx="415.0" cy="272.5" rx="17.5" ry="10.0" fill="#b8ec5c" fill-opacity="0.75"/>
<ellipse cx="462.5" cy="277.5" rx="12.5" ry="5.0" fill="#b8ec5c" fill-opacity="0.75"/>
<ellipse cx="163.3" cy="210.0" rx="16.7" ry="10.0" fill="#b8ec5c" fill-opacity="0.95"/>
<ellipse cx="230.0" cy="210.0" rx="50.0" ry="13.3" fill="#b8ec5c" fill-opacity="0.95"/>
<ellipse cx="180.0" cy="246.7" rx="36.7" ry="23.3" fill="#b8ec5c" fill-opacity="0.95"/>
<ellipse cx="170.0" cy="280.0" rx="36.7" ry="33.3" fill="#b8ec5c" fill-opacity="0.95"/>
<ellipse cx="240.0" cy="276.7" rx="46.7" ry="13.3" fill="#b8ec5c" fill-opacity="0.95"/>
<ellipse cx="290.0" cy="263.3" rx="26.7" ry="20.0" fill="#b8ec5c" fill-opacity="0.95"/>
<ellipse cx="296.7" cy="220.0" rx="40.0" ry="16.7" fill="#b8ec5c" fill-opacity="0.95"/>
<ellipse cx="213.3" cy="293.3" rx="26.7" ry="16.7" fill="#b8ec5c" fill-opacity="0.95"/>
<ellipse cx="277.5" cy="375.0" rx="45.0" ry="15.0" fill="#b8ec5c" fill-opacity="0.55"/>
<ellipse cx="322.5" cy="357.5" rx="15.0" ry="10.0" fill="#b8ec5c" fill-opacity="0.55"/>
<ellipse cx="562.0" cy="338.0" rx="12.0" ry="12.0" fill="#b8ec5c" fill-opacity="0.7999999999999999"/>
<ellipse cx="545.0" cy="345.0" rx="14.0" ry="10.0" fill="#b8ec5c" fill-opacity="0.7999999999999999"/>
</g>
<g filter="url(#m2)" opacity="1">
<ellipse cx="162.5" cy="202.0" rx="6.2" ry="3.8" fill="#62d83e" fill-opacity="0.7"/>
<ellipse cx="173.8" cy="198.0" rx="6.2" ry="2.5" fill="#62d83e" fill-opacity="0.7999999999999999"/>
<ellipse cx="195.0" cy="196.2" rx="10.0" ry="3.0" fill="#62d83e" fill-opacity="0.7999999999999999"/>
<ellipse cx="212.5" cy="193.8" rx="10.0" ry="3.8" fill="#62d83e" fill-opacity="0.7999999999999999"/>
<ellipse cx="225.0" cy="187.5" rx="6.2" ry="3.8" fill="#62d83e" fill-opacity="0.7999999999999999"/>
<ellipse cx="207.5" cy="205.0" rx="10.0" ry="3.8" fill="#62d83e" fill-opacity="0.7999999999999999"/>
<ellipse cx="225.0" cy="202.5" rx="10.0" ry="3.8" fill="#62d83e" fill-opacity="0.7999999999999999"/>
<ellipse cx="242.5" cy="200.0" rx="10.0" ry="3.8" fill="#62d83e" fill-opacity="0.7999999999999999"/>
<ellipse cx="202.5" cy="212.5" rx="10.0" ry="3.0" fill="#62d83e" fill-opacity="0.7999999999999999"/>
<ellipse cx="177.5" cy="217.5" rx="7.5" ry="3.8" fill="#62d83e" fill-opacity="0.7999999999999999"/>
<ellipse cx="170.0" cy="227.5" rx="10.0" ry="6.2" fill="#62d83e" fill-opacity="0.7999999999999999"/>
<ellipse cx="190.0" cy="230.0" rx="15.0" ry="6.2" fill="#62d83e" fill-opacity="0.7999999999999999"/>
<ellipse cx="210.0" cy="226.2" rx="10.0" ry="5.0" fill="#62d83e" fill-opacity="0.7999999999999999"/>
<ellipse cx="162.5" cy="240.0" rx="12.5" ry="6.2" fill="#62d83e" fill-opacity="0.7999999999999999"/>
<ellipse cx="185.0" cy="241.2" rx="12.5" ry="5.0" fill="#62d83e" fill-opacity="0.7999999999999999"/>
<ellipse cx="227.5" cy="212.5" rx="10.0" ry="3.8" fill="#62d83e" fill-opacity="0.7999999999999999"/>
<ellipse cx="270.0" cy="237.5" rx="10.0" ry="7.5" fill="#62d83e" fill-opacity="0.7999999999999999"/>
<ellipse cx="290.0" cy="210.0" rx="8.8" ry="8.8" fill="#62d83e" fill-opacity="0.7999999999999999"/>
<ellipse cx="307.5" cy="206.2" rx="10.0" ry="5.0" fill="#62d83e" fill-opacity="0.7999999999999999"/>
<ellipse cx="320.0" cy="212.5" rx="10.0" ry="3.8" fill="#62d83e" fill-opacity="0.7999999999999999"/>
<ellipse cx="355.0" cy="213.8" rx="15.0" ry="4.5" fill="#62d83e" transform="rotate(15 355.0 213.8)" fill-opacity="0.7999999999999999"/>
<ellipse cx="375.0" cy="223.8" rx="7.5" ry="2.5" fill="#62d83e" fill-opacity="0.7999999999999999"/>
<ellipse cx="365.0" cy="240.0" rx="12.5" ry="3.8" fill="#62d83e" fill-opacity="0.7999999999999999"/>
<ellipse cx="430.0" cy="226.2" rx="4.5" ry="10.0" fill="#62d83e" fill-opacity="0.7999999999999999"/>
<ellipse cx="397.5" cy="233.8" rx="3.8" ry="2.0" fill="#62d83e" fill-opacity="0.7999999999999999"/>
<ellipse cx="398.8" cy="186.2" rx="2.5" ry="1.0" fill="#62d83e" fill-opacity="0.7999999999999999"/>
<ellipse cx="160.0" cy="261.0" rx="15.0" ry="12.5" fill="#62d83e" fill-opacity="0.7999999999999999"/>
<ellipse cx="177.5" cy="266.0" rx="12.5" ry="10.0" fill="#62d83e" fill-opacity="0.7999999999999999"/>
<ellipse cx="170.0" cy="308.5" rx="20.0" ry="15.0" fill="#62d83e" fill-opacity="0.7999999999999999"/>
<ellipse cx="182.5" cy="318.5" rx="12.5" ry="10.0" fill="#62d83e" fill-opacity="0.7999999999999999"/>
<ellipse cx="195.0" cy="278.5" rx="7.5" ry="10.0" fill="#62d83e" fill-opacity="0.7999999999999999"/>
<ellipse cx="195.0" cy="303.5" rx="7.5" ry="10.0" fill="#62d83e" fill-opacity="0.7999999999999999"/>
<ellipse cx="207.5" cy="261.0" rx="7.5" ry="12.5" fill="#62d83e" fill-opacity="0.7999999999999999"/>
<ellipse cx="232.5" cy="274.8" rx="17.5" ry="6.2" fill="#62d83e" fill-opacity="0.7999999999999999"/>
<ellipse cx="255.0" cy="278.5" rx="15.0" ry="7.5" fill="#62d83e" fill-opacity="0.7999999999999999"/>
<ellipse cx="270.0" cy="263.5" rx="10.0" ry="15.0" fill="#62d83e" fill-opacity="0.7999999999999999"/>
<ellipse cx="272.5" cy="286.0" rx="7.5" ry="7.5" fill="#62d83e" fill-opacity="0.7999999999999999"/>
<ellipse cx="215.0" cy="324.8" rx="12.5" ry="3.0" fill="#62d83e" fill-opacity="0.7999999999999999"/>
<ellipse cx="242.5" cy="340.5" rx="7.0" ry="3.5" fill="#62d83e" fill-opacity="0.7999999999999999"/>
<ellipse cx="240.0" cy="312.2" rx="7.5" ry="2.5" fill="#62d83e" fill-opacity="0.7999999999999999"/>
<ellipse cx="287.5" cy="261.0" rx="10.0" ry="10.0" fill="#86dc4c" fill-opacity="0.75"/>
<ellipse cx="290.0" cy="283.5" rx="10.0" ry="12.5" fill="#86dc4c" fill-opacity="0.75"/>
<ellipse cx="322.5" cy="276.0" rx="15.0" ry="7.5" fill="#86dc4c" fill-opacity="0.75"/>
<ellipse cx="340.0" cy="266.0" rx="12.5" ry="8.8" fill="#86dc4c" fill-opacity="0.75"/>
<ellipse cx="355.0" cy="271.0" rx="7.5" ry="3.8" fill="#86dc4c" fill-opacity="0.75"/>
<ellipse cx="380.0" cy="278.5" rx="5.0" ry="2.5" fill="#86dc4c" fill-opacity="0.75"/>
<ellipse cx="397.5" cy="286.0" rx="15.0" ry="6.2" fill="#86dc4c" fill-opacity="0.75"/>
<ellipse cx="420.0" cy="278.0" rx="6.2" ry="2.5" fill="#86dc4c" fill-opacity="0.75"/>
<ellipse cx="400.0" cy="321.0" rx="10.0" ry="7.5" fill="#86dc4c" fill-opacity="0.75"/>
<ellipse cx="405.0" cy="338.5" rx="12.5" ry="10.0" fill="#86dc4c" fill-opacity="0.75"/>
<ellipse cx="430.0" cy="321.0" rx="6.2" ry="3.8" fill="#86dc4c" fill-opacity="0.75"/>
<ellipse cx="422.5" cy="254.8" rx="12.5" ry="3.8" fill="#86dc4c" fill-opacity="0.75"/>
<ellipse cx="435.0" cy="291.0" rx="5.0" ry="3.8" fill="#86dc4c" fill-opacity="0.75"/>
<ellipse cx="432.5" cy="309.8" rx="3.8" ry="2.5" fill="#86dc4c" fill-opacity="0.75"/>
<ellipse cx="377.5" cy="293.5" rx="10.0" ry="5.0" fill="#86dc4c" fill-opacity="0.75"/>
<ellipse cx="425.0" cy="343.5" rx="7.5" ry="5.0" fill="#86dc4c" fill-opacity="0.75"/>
<ellipse cx="465.0" cy="278.5" rx="12.5" ry="3.8" fill="#86dc4c" fill-opacity="0.75"/>
<ellipse cx="477.5" cy="287.2" rx="7.5" ry="6.2" fill="#86dc4c" fill-opacity="0.75"/>
<ellipse cx="535.0" cy="336.0" rx="12.5" ry="7.5" fill="#86dc4c" fill-opacity="0.75"/>
<ellipse cx="557.5" cy="341.0" rx="12.5" ry="8.8" fill="#86dc4c" fill-opacity="0.75"/>
<ellipse cx="547.5" cy="328.5" rx="10.0" ry="3.8" fill="#86dc4c" fill-opacity="0.75"/>
<ellipse cx="445.0" cy="292.2" rx="3.8" ry="3.8" fill="#86dc4c" fill-opacity="0.75"/>
<ellipse cx="443.8" cy="333.5" rx="5.0" ry="2.0" fill="#86dc4c" fill-opacity="0.75"/>
<ellipse cx="497.5" cy="304.8" rx="5.0" ry="2.5" fill="#86dc4c" fill-opacity="0.75"/>
<ellipse cx="565.0" cy="331.0" rx="7.5" ry="3.8" fill="#86dc4c" fill-opacity="0.75"/>
<ellipse cx="245.0" cy="340.0" rx="8.8" ry="3.5" fill="#86dc4c" fill-opacity="0.75"/>
<ellipse cx="237.5" cy="347.0" rx="5.5" ry="2.5" fill="#86dc4c" fill-opacity="0.75"/>
<ellipse cx="255.0" cy="360.0" rx="6.2" ry="3.0" fill="#86dc4c" fill-opacity="0.75"/>
<ellipse cx="260.0" cy="375.0" rx="10.0" ry="3.8" fill="#86dc4c" fill-opacity="0.75"/>
<ellipse cx="275.0" cy="372.5" rx="5.0" ry="5.0" fill="#86dc4c" fill-opacity="0.75"/>
<ellipse cx="245.0" cy="341.2" rx="5.5" ry="3.8" fill="#86dc4c" fill-opacity="0.75"/>
<ellipse cx="347.5" cy="381.2" rx="17.5" ry="7.0" fill="#86dc4c" fill-opacity="0.75"/>
<ellipse cx="365.0" cy="376.2" rx="10.0" ry="6.2" fill="#86dc4c" fill-opacity="0.75"/>
<ellipse cx="380.0" cy="352.5" rx="10.0" ry="7.5" fill="#86dc4c" fill-opacity="0.75"/>
<ellipse cx="392.5" cy="340.0" rx="7.5" ry="10.0" fill="#86dc4c" fill-opacity="0.75"/>
<ellipse cx="332.5" cy="368.8" rx="3.0" ry="3.0" fill="#86dc4c" fill-opacity="0.75"/>
<ellipse cx="255.0" cy="360.0" rx="6.2" ry="3.0" fill="#86dc4c" fill-opacity="0.75"/>
<ellipse cx="270.0" cy="367.5" rx="7.5" ry="2.5" fill="#86dc4c" fill-opacity="0.75"/>
<ellipse cx="377.5" cy="373.8" rx="3.8" ry="2.5" fill="#86dc4c" fill-opacity="0.75"/>
<ellipse cx="395.0" cy="325.0" rx="5.0" ry="5.0" fill="#86dc4c" fill-opacity="0.75"/>
<ellipse cx="397.5" cy="326.2" rx="7.5" ry="5.0" fill="#86dc4c" fill-opacity="0.75"/>
<ellipse cx="410.0" cy="331.2" rx="7.5" ry="3.0" fill="#86dc4c" fill-opacity="0.75"/>
<ellipse cx="442.5" cy="332.5" rx="6.2" ry="3.0" fill="#86dc4c" fill-opacity="0.75"/>
<ellipse cx="420.0" cy="343.8" rx="5.5" ry="2.5" fill="#86dc4c" fill-opacity="0.75"/>
<ellipse cx="397.5" cy="343.8" rx="7.5" ry="4.5" fill="#86dc4c" fill-opacity="0.75"/>
<ellipse cx="392.5" cy="357.5" rx="6.2" ry="5.0" fill="#86dc4c" fill-opacity="0.75"/>
<ellipse cx="372.5" cy="357.5" rx="7.5" ry="3.0" fill="#86dc4c" fill-opacity="0.75"/>
<ellipse cx="378.8" cy="373.8" rx="3.8" ry="2.5" fill="#86dc4c" fill-opacity="0.75"/>
<ellipse cx="437.5" cy="405.0" rx="8.8" ry="5.0" fill="#86dc4c" fill-opacity="0.75"/>
<ellipse cx="453.8" cy="387.0" rx="4.5" ry="2.5" fill="#86dc4c" fill-opacity="0.75"/>
<ellipse cx="511.2" cy="375.0" rx="3.0" ry="4.0" fill="#86dc4c" fill-opacity="0.75"/>
<ellipse cx="397.5" cy="366.2" rx="4.5" ry="2.5" fill="#86dc4c" fill-opacity="0.75"/>
<ellipse cx="412.5" cy="360.0" rx="3.0" ry="2.5" fill="#86dc4c" fill-opacity="0.75"/>
<ellipse cx="527.5" cy="335.0" rx="6.2" ry="4.5" fill="#86dc4c" fill-opacity="0.75"/>
<ellipse cx="445.0" cy="332.5" rx="4.5" ry="3.0" fill="#86dc4c" fill-opacity="0.75"/>
<ellipse cx="512.5" cy="375.0" rx="3.5" ry="4.5" fill="#86dc4c" fill-opacity="0.75"/>
<ellipse cx="453.8" cy="387.0" rx="3.8" ry="2.5" fill="#86dc4c" fill-opacity="0.75"/>
<ellipse cx="458.8" cy="382.0" rx="2.5" ry="1.5" fill="#86dc4c" fill-opacity="0.75"/>
<ellipse cx="442.5" cy="400.0" rx="3.8" ry="3.8" fill="#86dc4c" fill-opacity="0.75"/>
<ellipse cx="535.0" cy="360.0" rx="6.2" ry="2.0" fill="#86dc4c" fill-opacity="0.75"/>
<ellipse cx="493.8" cy="371.2" rx="2.0" ry="2.0" fill="#86dc4c" fill-opacity="0.75"/>
<ellipse cx="567.5" cy="328.8" rx="6.2" ry="3.0" fill="#86dc4c" fill-opacity="0.75"/>
<ellipse cx="427.5" cy="227.5" rx="5.5" ry="10.0" fill="#86dc4c" fill-opacity="0.75"/>
<ellipse cx="417.5" cy="252.5" rx="13.8" ry="5.0" fill="#86dc4c" fill-opacity="0.75"/>
<ellipse cx="405.0" cy="250.0" rx="5.0" ry="3.0" fill="#86dc4c" fill-opacity="0.75"/>
<ellipse cx="425.0" cy="267.5" rx="8.8" ry="3.8" fill="#86dc4c" fill-opacity="0.75"/>
<ellipse cx="407.5" cy="275.0" rx="5.5" ry="2.5" fill="#86dc4c" fill-opacity="0.75"/>
<ellipse cx="465.0" cy="277.0" rx="8.8" ry="2.5" fill="#86dc4c" fill-opacity="0.75"/>
<ellipse cx="432.5" cy="240.0" rx="3.0" ry="5.0" fill="#86dc4c" fill-opacity="0.75"/>
<ellipse cx="163.3" cy="203.3" rx="10.0" ry="6.7" fill="#62d83e" fill-opacity="0.85"/>
<ellipse cx="186.7" cy="200.0" rx="16.7" ry="5.0" fill="#62d83e" fill-opacity="0.85"/>
<ellipse cx="216.7" cy="203.3" rx="16.7" ry="6.7" fill="#62d83e" fill-opacity="0.85"/>
<ellipse cx="240.0" cy="211.7" rx="20.0" ry="6.7" fill="#62d83e" fill-opacity="0.85"/>
<ellipse cx="196.7" cy="216.7" rx="13.3" ry="5.0" fill="#62d83e" fill-opacity="0.85"/>
<ellipse cx="166.7" cy="230.0" rx="16.7" ry="10.0" fill="#62d83e" fill-opacity="0.85"/>
<ellipse cx="190.0" cy="233.3" rx="13.3" ry="6.7" fill="#62d83e" fill-opacity="0.85"/>
<ellipse cx="160.0" cy="253.3" rx="16.7" ry="10.0" fill="#62d83e" fill-opacity="0.85"/>
<ellipse cx="186.7" cy="256.7" rx="20.0" ry="8.3" fill="#62d83e" fill-opacity="0.85"/>
<ellipse cx="203.3" cy="263.3" rx="10.0" ry="10.0" fill="#62d83e" fill-opacity="0.85"/>
<ellipse cx="230.0" cy="273.3" rx="20.0" ry="6.7" fill="#62d83e" fill-opacity="0.85"/>
<ellipse cx="256.7" cy="270.0" rx="16.7" ry="8.3" fill="#62d83e" fill-opacity="0.85"/>
<ellipse cx="280.0" cy="260.0" rx="13.3" ry="13.3" fill="#62d83e" fill-opacity="0.85"/>
<ellipse cx="286.7" cy="236.7" rx="10.0" ry="10.0" fill="#62d83e" fill-opacity="0.85"/>
<ellipse cx="303.3" cy="216.7" rx="16.7" ry="10.0" fill="#62d83e" fill-opacity="0.85"/>
<ellipse cx="276.7" cy="216.7" rx="13.3" ry="6.7" fill="#62d83e" fill-opacity="0.85"/>
<ellipse cx="183.3" cy="306.7" rx="20.0" ry="13.3" fill="#62d83e" fill-opacity="0.85"/>
<ellipse cx="206.7" cy="290.0" rx="13.3" ry="13.3" fill="#62d83e" fill-opacity="0.85"/>
<ellipse cx="163.3" cy="310.0" rx="20.0" ry="10.0" fill="#62d83e" fill-opacity="0.85"/>
<ellipse cx="188.0" cy="290.0" rx="12.0" ry="18.0" fill="#62d83e" fill-opacity="0.9"/>
<ellipse cx="170.0" cy="268.0" rx="14.0" ry="6.0" fill="#62d83e" fill-opacity="0.9"/>
<ellipse cx="345.0" cy="380.0" rx="14.0" ry="7.0" fill="#62d83e" fill-opacity="0.9"/>
<ellipse cx="360.0" cy="378.0" rx="10.0" ry="8.0" fill="#62d83e" fill-opacity="0.9"/>
<ellipse cx="335.0" cy="384.0" rx="8.0" ry="5.0" fill="#62d83e" fill-opacity="0.9"/>
<ellipse cx="563.0" cy="336.0" rx="9.0" ry="9.0" fill="#62d83e" fill-opacity="0.7999999999999999"/>
<ellipse cx="548.0" cy="342.0" rx="10.0" ry="7.0" fill="#62d83e" fill-opacity="0.7999999999999999"/>
<ellipse cx="530.0" cy="338.0" rx="8.0" ry="6.0" fill="#62d83e" fill-opacity="0.7999999999999999"/>
<ellipse cx="158.0" cy="287.0" rx="21.0" ry="18.0" fill="#62d83e" />
</g>
<g filter="url(#my)" opacity="1">
<ellipse cx="183.8" cy="208.0" rx="10.0" ry="5.5" fill="#eae874" fill-opacity="0.8"/>
<ellipse cx="199.5" cy="220.5" rx="11.2" ry="3.8" fill="#eae874" fill-opacity="0.9"/>
<ellipse cx="233.8" cy="196.2" rx="6.2" ry="2.5" fill="#eae874" fill-opacity="0.9"/>
<ellipse cx="250.0" cy="193.8" rx="5.0" ry="2.0" fill="#eae874" fill-opacity="0.9"/>
</g>
<g filter="url(#m3)" opacity="1">
<ellipse cx="210.0" cy="201.2" rx="7.5" ry="2.5" fill="#2aa83a" fill-opacity="0.7"/>
<ellipse cx="195.0" cy="198.0" rx="5.0" ry="2.0" fill="#2aa83a" fill-opacity="0.7999999999999999"/>
<ellipse cx="227.5" cy="201.2" rx="6.2" ry="2.5" fill="#2aa83a" fill-opacity="0.7999999999999999"/>
<ellipse cx="202.5" cy="227.5" rx="7.5" ry="3.0" fill="#2aa83a" fill-opacity="0.7999999999999999"/>
<ellipse cx="177.5" cy="235.0" rx="7.5" ry="3.8" fill="#2aa83a" fill-opacity="0.7999999999999999"/>
<ellipse cx="167.5" cy="222.5" rx="5.0" ry="2.5" fill="#2aa83a" fill-opacity="0.7999999999999999"/>
<ellipse cx="275.0" cy="235.0" rx="5.0" ry="7.5" fill="#2aa83a" fill-opacity="0.7999999999999999"/>
<ellipse cx="285.0" cy="202.5" rx="3.8" ry="3.8" fill="#2aa83a" fill-opacity="0.7999999999999999"/>
<ellipse cx="342.5" cy="205.0" rx="5.0" ry="6.2" fill="#2aa83a" fill-opacity="0.7999999999999999"/>
<ellipse cx="362.5" cy="212.5" rx="5.0" ry="2.5" fill="#2aa83a" fill-opacity="0.7999999999999999"/>
<ellipse cx="352.5" cy="242.5" rx="5.0" ry="2.0" fill="#2aa83a" fill-opacity="0.7999999999999999"/>
<ellipse cx="152.5" cy="266.0" rx="7.5" ry="7.5" fill="#2aa83a" fill-opacity="0.7999999999999999"/>
<ellipse cx="147.5" cy="296.0" rx="7.5" ry="5.0" fill="#2aa83a" fill-opacity="0.7999999999999999"/>
<ellipse cx="180.0" cy="306.0" rx="10.0" ry="7.5" fill="#2aa83a" fill-opacity="0.7999999999999999"/>
<ellipse cx="175.0" cy="321.0" rx="7.5" ry="5.0" fill="#2aa83a" fill-opacity="0.7999999999999999"/>
<ellipse cx="207.5" cy="253.5" rx="5.0" ry="6.2" fill="#2aa83a" fill-opacity="0.7999999999999999"/>
<ellipse cx="237.5" cy="271.0" rx="10.0" ry="3.0" fill="#2aa83a" fill-opacity="0.7999999999999999"/>
<ellipse cx="270.0" cy="258.5" rx="7.5" ry="10.0" fill="#2aa83a" fill-opacity="0.7999999999999999"/>
<ellipse cx="260.0" cy="276.0" rx="7.5" ry="3.8" fill="#2aa83a" fill-opacity="0.7999999999999999"/>
<ellipse cx="333.8" cy="259.8" rx="3.8" ry="3.8" fill="#44bc40" fill-opacity="0.7999999999999999"/>
<ellipse cx="340.0" cy="268.5" rx="5.0" ry="3.8" fill="#44bc40" fill-opacity="0.7999999999999999"/>
<ellipse cx="327.5" cy="278.5" rx="6.2" ry="3.8" fill="#44bc40" fill-opacity="0.7999999999999999"/>
<ellipse cx="400.0" cy="284.8" rx="5.0" ry="2.5" fill="#44bc40" fill-opacity="0.7999999999999999"/>
<ellipse cx="397.5" cy="328.5" rx="5.0" ry="5.0" fill="#44bc40" fill-opacity="0.7999999999999999"/>
<ellipse cx="287.5" cy="258.5" rx="5.0" ry="3.8" fill="#44bc40" fill-opacity="0.7999999999999999"/>
<ellipse cx="430.0" cy="254.8" rx="7.5" ry="2.5" fill="#44bc40" fill-opacity="0.7999999999999999"/>
<ellipse cx="417.5" cy="341.0" rx="3.8" ry="2.5" fill="#44bc40" fill-opacity="0.7999999999999999"/>
<ellipse cx="535.0" cy="338.5" rx="7.5" ry="5.0" fill="#44bc40" fill-opacity="0.7999999999999999"/>
<ellipse cx="557.5" cy="343.5" rx="7.5" ry="5.0" fill="#44bc40" fill-opacity="0.7999999999999999"/>
<ellipse cx="545.0" cy="346.0" rx="5.0" ry="3.8" fill="#44bc40" fill-opacity="0.7999999999999999"/>
<ellipse cx="467.5" cy="277.2" rx="6.2" ry="2.0" fill="#44bc40" fill-opacity="0.7999999999999999"/>
<ellipse cx="243.8" cy="341.2" rx="3.8" ry="2.0" fill="#44bc40" fill-opacity="0.7999999999999999"/>
<ellipse cx="340.0" cy="382.5" rx="10.0" ry="5.0" fill="#44bc40" fill-opacity="0.7999999999999999"/>
<ellipse cx="360.0" cy="380.0" rx="6.2" ry="3.8" fill="#44bc40" fill-opacity="0.7999999999999999"/>
<ellipse cx="351.2" cy="373.8" rx="6.2" ry="3.0" fill="#44bc40" fill-opacity="0.7999999999999999"/>
<ellipse cx="385.0" cy="355.0" rx="5.0" ry="3.0" fill="#44bc40" fill-opacity="0.7999999999999999"/>
<ellipse cx="393.8" cy="347.5" rx="3.8" ry="2.5" fill="#44bc40" fill-opacity="0.7999999999999999"/>
<ellipse cx="392.5" cy="357.5" rx="3.8" ry="3.0" fill="#44bc40" fill-opacity="0.7999999999999999"/>
<ellipse cx="437.5" cy="406.2" rx="6.2" ry="3.0" fill="#44bc40" fill-opacity="0.7999999999999999"/>
<ellipse cx="511.2" cy="373.8" rx="2.0" ry="2.5" fill="#44bc40" fill-opacity="0.7999999999999999"/>
<ellipse cx="397.5" cy="325.0" rx="3.8" ry="2.5" fill="#44bc40" fill-opacity="0.7999999999999999"/>
<ellipse cx="512.5" cy="375.0" rx="2.0" ry="3.0" fill="#44bc40" fill-opacity="0.7999999999999999"/>
<ellipse cx="453.8" cy="387.0" rx="2.0" ry="1.5" fill="#44bc40" fill-opacity="0.7999999999999999"/>
<ellipse cx="557.5" cy="332.5" rx="5.0" ry="2.5" fill="#44bc40" fill-opacity="0.7999999999999999"/>
<ellipse cx="425.0" cy="233.8" rx="3.8" ry="6.2" fill="#44bc40" fill-opacity="0.7999999999999999"/>
<ellipse cx="422.5" cy="253.8" rx="7.5" ry="3.0" fill="#44bc40" fill-opacity="0.7999999999999999"/>
<ellipse cx="462.5" cy="276.2" rx="5.0" ry="2.0" fill="#44bc40" fill-opacity="0.7999999999999999"/>
<ellipse cx="213.3" cy="216.7" rx="13.3" ry="5.0" fill="#2aa83a" fill-opacity="0.7999999999999999"/>
<ellipse cx="230.0" cy="213.3" rx="10.0" ry="4.0" fill="#2aa83a" fill-opacity="0.7999999999999999"/>
<ellipse cx="170.0" cy="243.3" rx="13.3" ry="6.7" fill="#2aa83a" fill-opacity="0.7999999999999999"/>
<ellipse cx="196.7" cy="246.7" rx="8.3" ry="6.7" fill="#2aa83a" fill-opacity="0.7999999999999999"/>
<ellipse cx="233.3" cy="270.0" rx="13.3" ry="4.0" fill="#2aa83a" fill-opacity="0.7999999999999999"/>
<ellipse cx="273.3" cy="266.7" rx="8.3" ry="6.7" fill="#2aa83a" fill-opacity="0.7999999999999999"/>
<ellipse cx="290.0" cy="213.3" rx="10.0" ry="5.0" fill="#2aa83a" fill-opacity="0.7999999999999999"/>
<ellipse cx="196.7" cy="296.7" rx="10.0" ry="10.0" fill="#2aa83a" fill-opacity="0.7999999999999999"/>
<ellipse cx="183.0" cy="285.0" rx="10.0" ry="16.0" fill="#2aa83a" fill-opacity="0.85"/>
<ellipse cx="190.0" cy="270.0" rx="10.0" ry="10.0" fill="#2aa83a" fill-opacity="0.85"/>
<ellipse cx="150.0" cy="297.0" rx="10.0" ry="6.0" fill="#2aa83a" fill-opacity="0.85"/>
<ellipse cx="178.0" cy="300.0" rx="12.0" ry="8.0" fill="#2aa83a" fill-opacity="0.85"/>
<ellipse cx="338.0" cy="383.0" rx="6.0" ry="4.0" fill="#2aa83a" fill-opacity="0.9"/>
<ellipse cx="362.0" cy="380.0" rx="6.0" ry="5.0" fill="#2aa83a" fill-opacity="0.9"/>
<ellipse cx="350.0" cy="376.0" rx="6.0" ry="4.0" fill="#2aa83a" fill-opacity="0.9"/>
<ellipse cx="565.0" cy="338.0" rx="5.0" ry="6.0" fill="#2aa83a" fill-opacity="0.7999999999999999"/>
<ellipse cx="541.0" cy="347.0" rx="5.0" ry="4.0" fill="#2aa83a" fill-opacity="0.7999999999999999"/>
<ellipse cx="170.0" cy="310.0" rx="9.0" ry="6.0" fill="#2aa83a" fill-opacity="0.7999999999999999"/>
<ellipse cx="190.0" cy="296.0" rx="7.0" ry="7.0" fill="#2aa83a" fill-opacity="0.7999999999999999"/>
<ellipse cx="165.0" cy="303.0" rx="6.0" ry="5.0" fill="#2aa83a" fill-opacity="0.7999999999999999"/>
<ellipse cx="160.0" cy="288.0" rx="16.0" ry="14.0" fill="#2aa83a" fill-opacity="0.7"/>
</g>
<g filter="url(#m4)" opacity="1">
<ellipse cx="158.0" cy="203.8" rx="2.5" ry="2.5" fill="#23688e" fill-opacity="0.9"/>
<ellipse cx="192.0" cy="200.0" rx="1.8" ry="1.8" fill="#23688e" />
<ellipse cx="228.8" cy="182.5" rx="2.0" ry="1.5" fill="#23688e" />
<ellipse cx="242.5" cy="178.0" rx="2.5" ry="1.0" fill="#23688e" />
<ellipse cx="230.0" cy="218.0" rx="4.5" ry="2.5" fill="#23688e" />
<ellipse cx="221.2" cy="222.5" rx="3.0" ry="2.0" fill="#23688e" />
<ellipse cx="200.0" cy="240.0" rx="4.5" ry="3.5" fill="#23688e" />
<ellipse cx="153.8" cy="240.0" rx="3.5" ry="3.5" fill="#23688e" />
<ellipse cx="251.2" cy="208.0" rx="3.5" ry="2.5" fill="#23688e" />
<ellipse cx="263.8" cy="213.0" rx="10.0" ry="6.2" fill="#23688e" />
<ellipse cx="276.2" cy="223.8" rx="3.8" ry="5.0" fill="#23688e" />
<ellipse cx="237.5" cy="215.0" rx="2.0" ry="2.5" fill="#23688e" />
<ellipse cx="285.0" cy="221.2" rx="10.0" ry="5.5" fill="#23688e" />
<ellipse cx="307.5" cy="210.0" rx="4.0" ry="3.0" fill="#23688e" />
<ellipse cx="340.0" cy="200.0" rx="4.5" ry="7.0" fill="#23688e" />
<ellipse cx="332.5" cy="212.5" rx="7.0" ry="5.0" fill="#23688e" />
<ellipse cx="350.0" cy="217.5" rx="8.0" ry="3.0" fill="#23688e" />
<ellipse cx="361.2" cy="211.8" rx="3.8" ry="2.0" fill="#23688e" />
<ellipse cx="372.5" cy="236.2" rx="7.5" ry="2.5" fill="#23688e" />
<ellipse cx="357.5" cy="242.5" rx="5.0" ry="2.0" fill="#23688e" />
<ellipse cx="432.0" cy="227.5" rx="2.0" ry="6.2" fill="#23688e" />
<ellipse cx="391.2" cy="183.8" rx="1.2" ry="1.5" fill="#23688e" />
<ellipse cx="396.2" cy="233.8" rx="2.0" ry="1.2" fill="#23688e" />
<ellipse cx="155.0" cy="256.0" rx="7.5" ry="3.8" fill="#23688e" fill-opacity="0.95"/>
<ellipse cx="165.0" cy="252.2" rx="5.0" ry="2.5" fill="#23688e" fill-opacity="0.95"/>
<ellipse cx="202.5" cy="293.0" rx="3.0" ry="1.5" fill="#23688e" fill-opacity="0.95"/>
<ellipse cx="203.8" cy="298.0" rx="2.5" ry="1.2" fill="#23688e" fill-opacity="0.95"/>
<ellipse cx="196.2" cy="314.8" rx="3.5" ry="1.2" fill="#23688e" fill-opacity="0.95"/>
<ellipse cx="180.0" cy="326.0" rx="2.0" ry="2.5" fill="#23688e" fill-opacity="0.95"/>
<ellipse cx="276.2" cy="300.5" rx="2.0" ry="2.5" fill="#23688e" fill-opacity="0.95"/>
<ellipse cx="253.8" cy="307.2" rx="2.5" ry="1.2" fill="#23688e" fill-opacity="0.95"/>
<ellipse cx="241.2" cy="345.5" rx="2.0" ry="1.2" fill="#23688e" fill-opacity="0.95"/>
<ellipse cx="420.0" cy="253.0" rx="10.0" ry="3.0" fill="#23688e" />
<ellipse cx="345.0" cy="264.0" rx="1.5" ry="1.2" fill="#23688e" />
<ellipse cx="397.5" cy="324.0" rx="2.0" ry="1.2" fill="#23688e" />
<ellipse cx="432.5" cy="288.5" rx="3.0" ry="1.8" fill="#23688e" />
<ellipse cx="372.5" cy="294.8" rx="1.5" ry="1.2" fill="#23688e" />
<ellipse cx="327.5" cy="283.5" rx="1.2" ry="1.2" fill="#23688e" />
<ellipse cx="285.0" cy="258.5" rx="3.0" ry="2.0" fill="#23688e" />
<ellipse cx="542.5" cy="348.5" rx="2.5" ry="2.0" fill="#23688e" fill-opacity="0.9"/>
<ellipse cx="560.0" cy="341.0" rx="2.5" ry="2.5" fill="#23688e" fill-opacity="0.9"/>
<ellipse cx="240.0" cy="345.8" rx="1.5" ry="1.0" fill="#23688e" />
<ellipse cx="351.2" cy="373.0" rx="5.5" ry="2.2" fill="#23688e" />
<ellipse cx="362.5" cy="379.5" rx="3.0" ry="2.0" fill="#23688e" />
<ellipse cx="336.2" cy="383.8" rx="3.0" ry="2.0" fill="#23688e" />
<ellipse cx="277.5" cy="373.8" rx="3.0" ry="1.0" fill="#23688e" />
<ellipse cx="241.2" cy="345.0" rx="1.5" ry="1.2" fill="#23688e" />
<ellipse cx="393.8" cy="357.5" rx="2.0" ry="1.5" fill="#23688e" />
<ellipse cx="396.2" cy="365.0" rx="2.0" ry="1.5" fill="#23688e" />
<ellipse cx="397.5" cy="323.8" rx="1.8" ry="1.2" fill="#23688e" />
<ellipse cx="393.8" cy="357.0" rx="2.5" ry="2.0" fill="#23688e" />
<ellipse cx="398.0" cy="365.5" rx="2.0" ry="1.5" fill="#23688e" />
<ellipse cx="363.8" cy="379.5" rx="3.0" ry="2.0" fill="#23688e" />
<ellipse cx="437.5" cy="405.0" rx="3.8" ry="1.8" fill="#23688e" />
<ellipse cx="453.8" cy="387.0" rx="1.8" ry="1.2" fill="#23688e" />
<ellipse cx="377.5" cy="373.0" rx="1.5" ry="1.2" fill="#23688e" />
<ellipse cx="545.0" cy="350.5" rx="3.0" ry="2.0" fill="#23688e" />
<ellipse cx="453.8" cy="387.0" rx="1.2" ry="1.0" fill="#23688e" />
<ellipse cx="442.0" cy="401.2" rx="2.0" ry="1.5" fill="#23688e" />
<ellipse cx="431.2" cy="231.2" rx="2.0" ry="4.0" fill="#23688e" />
<ellipse cx="420.0" cy="252.5" rx="10.0" ry="3.0" fill="#23688e" />
<ellipse cx="402.5" cy="232.5" rx="2.0" ry="1.5" fill="#23688e" />
<ellipse cx="433.0" cy="203.0" rx="3.0" ry="2.0" fill="#23688e" />
<ellipse cx="467.5" cy="275.0" rx="5.0" ry="2.0" fill="#23688e" />
<ellipse cx="195.0" cy="241.7" rx="9.3" ry="6.0" fill="#23688e" fill-opacity="0.9"/>
<ellipse cx="156.7" cy="246.7" rx="8.3" ry="6.7" fill="#23688e" fill-opacity="0.9"/>
<ellipse cx="163.3" cy="260.0" rx="10.0" ry="5.0" fill="#23688e" fill-opacity="0.9"/>
<ellipse cx="253.3" cy="208.3" rx="10.0" ry="5.0" fill="#23688e" fill-opacity="0.9"/>
<ellipse cx="266.7" cy="210.0" rx="13.3" ry="8.3" fill="#23688e" fill-opacity="0.9"/>
<ellipse cx="283.3" cy="223.3" rx="13.3" ry="6.0" fill="#23688e" fill-opacity="0.9"/>
<ellipse cx="303.3" cy="211.7" rx="5.0" ry="3.3" fill="#23688e" fill-opacity="0.9"/>
<ellipse cx="230.0" cy="215.0" rx="6.7" ry="3.3" fill="#23688e" fill-opacity="0.9"/>
<ellipse cx="160.0" cy="221.7" rx="5.0" ry="3.3" fill="#23688e" fill-opacity="0.9"/>
<ellipse cx="160.0" cy="287.0" rx="22.0" ry="18.0" fill="#23688e" fill-opacity="0.7"/>
<ellipse cx="162.0" cy="259.0" rx="16.0" ry="7.0" fill="#23688e" fill-opacity="0.7"/>
<ellipse cx="176.0" cy="262.0" rx="8.0" ry="5.0" fill="#23688e" fill-opacity="0.7"/>
<ellipse cx="260.0" cy="212.0" rx="18.0" ry="9.0" fill="#23688e" transform="rotate(10 260.0 212.0)" fill-opacity="0.7"/>
<ellipse cx="286.0" cy="223.0" rx="15.0" ry="6.0" fill="#23688e" fill-opacity="0.7"/>
<ellipse cx="333.0" cy="210.0" rx="9.0" ry="10.0" fill="#23688e" fill-opacity="0.7"/>
<ellipse cx="350.0" cy="218.0" rx="9.0" ry="5.0" fill="#23688e" transform="rotate(20 350.0 218.0)" fill-opacity="0.7"/>
<ellipse cx="182.0" cy="282.0" rx="9.0" ry="12.0" fill="#23688e" fill-opacity="0.6"/>
<ellipse cx="150.0" cy="262.0" rx="6.0" ry="6.0" fill="#23688e" fill-opacity="0.7"/>
</g>
<g filter="url(#m5)" opacity="1">
<ellipse cx="158.0" cy="204.0" rx="1.5" ry="1.5" fill="#1a1e84" fill-opacity="0.9"/>
<ellipse cx="262.5" cy="213.8" rx="7.0" ry="4.0" fill="#1a1e84" />
<ellipse cx="200.0" cy="240.5" rx="2.5" ry="2.0" fill="#1a1e84" />
<ellipse cx="153.2" cy="240.5" rx="2.0" ry="2.2" fill="#1a1e84" />
<ellipse cx="230.0" cy="218.5" rx="2.5" ry="1.5" fill="#1a1e84" />
<ellipse cx="251.2" cy="208.8" rx="2.0" ry="1.5" fill="#1a1e84" />
<ellipse cx="277.0" cy="223.8" rx="2.5" ry="3.5" fill="#1a1e84" />
<ellipse cx="283.8" cy="222.0" rx="7.5" ry="3.8" fill="#1a1e84" />
<ellipse cx="307.5" cy="210.5" rx="2.5" ry="2.0" fill="#1a1e84" />
<ellipse cx="340.0" cy="198.8" rx="3.0" ry="5.0" fill="#1a1e84" />
<ellipse cx="332.5" cy="213.8" rx="5.0" ry="4.5" fill="#1a1e84" />
<ellipse cx="350.0" cy="218.0" rx="6.2" ry="2.0" fill="#1a1e84" />
<ellipse cx="372.5" cy="236.2" rx="5.5" ry="1.8" fill="#1a1e84" />
<ellipse cx="432.5" cy="227.5" rx="1.2" ry="4.5" fill="#1a1e84" />
<ellipse cx="391.2" cy="183.8" rx="1.0" ry="1.2" fill="#1a1e84" />
<ellipse cx="357.5" cy="243.0" rx="3.0" ry="1.2" fill="#1a1e84" />
<ellipse cx="432.5" cy="202.0" rx="3.0" ry="2.0" fill="#1a1e84" />
<ellipse cx="157.5" cy="256.0" rx="3.8" ry="2.0" fill="#1a1e84" />
<ellipse cx="202.5" cy="293.0" rx="2.2" ry="1.0" fill="#1a1e84" />
<ellipse cx="196.2" cy="314.8" rx="2.5" ry="1.0" fill="#1a1e84" />
<ellipse cx="276.2" cy="301.0" rx="1.5" ry="1.8" fill="#1a1e84" />
<ellipse cx="418.8" cy="252.5" rx="6.2" ry="1.8" fill="#1a1e84" />
<ellipse cx="432.5" cy="288.5" rx="2.0" ry="1.2" fill="#1a1e84" />
<ellipse cx="397.5" cy="324.0" rx="1.2" ry="1.0" fill="#1a1e84" />
<ellipse cx="351.2" cy="373.0" rx="4.0" ry="1.5" fill="#1a1e84" />
<ellipse cx="362.5" cy="379.5" rx="1.8" ry="1.2" fill="#1a1e84" />
<ellipse cx="336.2" cy="384.2" rx="1.8" ry="1.2" fill="#1a1e84" />
<ellipse cx="363.8" cy="379.5" rx="2.0" ry="1.2" fill="#1a1e84" />
<ellipse cx="397.5" cy="323.8" rx="1.2" ry="1.0" fill="#1a1e84" />
<ellipse cx="437.5" cy="405.0" rx="2.0" ry="1.0" fill="#1a1e84" />
<ellipse cx="431.2" cy="231.2" rx="1.2" ry="3.0" fill="#1a1e84" />
<ellipse cx="416.2" cy="252.0" rx="5.5" ry="1.8" fill="#1a1e84" />
<ellipse cx="433.0" cy="203.0" rx="2.5" ry="1.5" fill="#1a1e84" />
<ellipse cx="402.5" cy="232.5" rx="1.5" ry="1.0" fill="#1a1e84" />
<ellipse cx="266.7" cy="211.7" rx="10.0" ry="6.0" fill="#1a1e84" fill-opacity="0.95"/>
<ellipse cx="281.7" cy="223.3" rx="8.3" ry="3.3" fill="#1a1e84" fill-opacity="0.95"/>
<ellipse cx="196.7" cy="242.7" rx="5.0" ry="3.3" fill="#1a1e84" fill-opacity="0.95"/>
<ellipse cx="253.3" cy="206.7" rx="5.0" ry="2.7" fill="#1a1e84" fill-opacity="0.95"/>
<ellipse cx="158.0" cy="287.0" rx="17.5" ry="16.5" fill="#1a1e84" fill-opacity="0.76"/>
<ellipse cx="160.0" cy="259.0" rx="10.0" ry="4.0" fill="#1a1e84" fill-opacity="0.7999999999999999"/>
<ellipse cx="172.0" cy="257.0" rx="6.0" ry="3.0" fill="#1a1e84" fill-opacity="0.7999999999999999"/>
<ellipse cx="149.0" cy="272.0" rx="4.0" ry="4.0" fill="#1a1e84" fill-opacity="0.7"/>
<ellipse cx="258.0" cy="211.0" rx="14.0" ry="7.0" fill="#1a1e84" transform="rotate(10 258.0 211.0)" fill-opacity="0.9"/>
<ellipse cx="247.0" cy="209.0" rx="6.0" ry="4.0" fill="#1a1e84" fill-opacity="0.9"/>
<ellipse cx="286.0" cy="222.5" rx="12.0" ry="4.5" fill="#1a1e84" fill-opacity="0.9"/>
<ellipse cx="332.0" cy="212.0" rx="6.0" ry="7.0" fill="#1a1e84" fill-opacity="0.95"/>
<ellipse cx="339.0" cy="203.0" rx="4.0" ry="7.0" fill="#1a1e84" fill-opacity="0.9"/>
<ellipse cx="350.0" cy="218.0" rx="6.0" ry="3.5" fill="#1a1e84" transform="rotate(20 350.0 218.0)" fill-opacity="0.9"/>
<ellipse cx="180.0" cy="285.0" rx="8.0" ry="10.0" fill="#1a1e84" fill-opacity="0.6"/>
<ellipse cx="174.0" cy="275.0" rx="8.0" ry="6.0" fill="#1a1e84" fill-opacity="0.65"/>
<ellipse cx="186.0" cy="296.0" rx="6.0" ry="5.0" fill="#1a1e84" fill-opacity="0.6"/>
<ellipse cx="175.0" cy="297.0" rx="8.0" ry="5.0" fill="#1a1e84" fill-opacity="0.65"/>
</g>
<polygon points="152.5,307.5 157.5,317.5 165.0,323.8 168.8,335.0 177.5,342.5 185.0,350.0 187.5,358.8 195.0,365.0 205.0,367.5 220.0,370.0 232.5,376.2 245.0,386.2 257.5,395.0 270.0,398.0 275.0,396.0 272.5,395.0 262.5,391.2 250.0,383.8 240.0,378.8 231.2,371.2 225.0,365.0 212.5,360.0 200.0,361.2 195.0,356.2 197.5,350.0 195.0,346.2 188.5,337.0 181.0,330.0 173.0,324.0 165.5,318.0 156.0,312.0" fill="#9acde3" />
<path d="M206.3 238.5 C207.4 237.0 213.8 232.7 216.0 231.2 C218.2 229.7 223.0 227.1 225.0 226.0 C227.0 224.9 230.9 222.6 233.0 222.0 C235.1 221.4 240.7 221.2 243.0 221.0 C245.3 220.8 250.9 219.7 252.7 220.6 C254.5 221.5 256.8 226.9 258.4 228.3 C260.0 229.7 266.1 231.3 266.8 232.5 C267.5 233.7 264.4 237.0 264.2 238.2 C264.0 239.4 264.7 241.0 265.4 242.4 C266.1 243.8 270.1 249.2 270.5 250.5 C270.9 251.8 270.1 253.0 269.2 253.7 C268.3 254.4 264.2 255.8 262.6 256.5 C261.0 257.2 256.9 258.5 255.6 259.3 C254.3 260.1 252.9 262.8 251.3 263.5 C249.7 264.2 244.0 264.6 241.5 264.9 C239.0 265.2 232.5 265.9 230.2 266.3 C227.9 266.7 223.4 267.9 221.8 267.9 C220.2 267.9 217.2 267.6 216.1 266.3 C215.0 265.0 213.4 258.5 212.6 256.5 C211.8 254.5 209.7 250.9 209.0 249.4 C208.3 247.9 206.6 245.1 206.3 243.8 C206.0 242.5 205.2 240.0 206.3 238.5Z" fill="#9acde3" />
<path d="M260.8 166.2 C261.3 165.8 264.5 166.3 265.9 167.2 C267.3 168.1 269.2 172.1 271.0 173.3 C272.8 174.5 276.5 175.6 279.1 176.3 C281.7 177.0 288.5 177.8 290.3 178.4 C292.1 179.0 293.0 180.7 292.3 181.0 C291.6 181.3 287.5 181.5 285.2 181.0 C282.9 180.5 277.4 178.2 275.0 177.4 C272.6 176.6 268.7 176.3 266.9 175.3 C265.1 174.3 262.6 171.4 261.8 170.2 C261.0 169.0 260.3 166.6 260.8 166.2Z" fill="#9cc8e0" />
<polygon points="173.8,214.5 170.0,220.0 165.0,225.0 160.0,230.0 152.5,236.2 148.0,239.0 153.5,239.0 159.0,234.8 164.0,231.0 169.0,227.0 174.0,222.0 177.5,217.0" fill="#a4cfe0" />
<g filter="url(#b05)" opacity="1">
<ellipse cx="320.0" cy="260.5" rx="6.2" ry="2.0" fill="#9cc4e4" transform="rotate(-35 320.0 260.5)" />
<ellipse cx="338.8" cy="255.5" rx="1.8" ry="2.2" fill="#9cc4e4" />
<ellipse cx="373.8" cy="307.8" rx="3.5" ry="1.8" fill="#9cc4e4" transform="rotate(-15 373.8 307.8)" />
</g>
<g filter="url(#spot)" opacity="1">
<ellipse cx="396.2" cy="233.8" rx="2.0" ry="1.2" fill="#2aa83a" />
<ellipse cx="401.2" cy="232.5" rx="1.2" ry="1.0" fill="#2aa83a" />
<ellipse cx="398.8" cy="186.2" rx="2.5" ry="1.0" fill="#2aa83a" />
<ellipse cx="385.0" cy="192.5" rx="1.0" ry="1.2" fill="#2aa83a" />
<ellipse cx="432.5" cy="310.5" rx="2.5" ry="1.2" fill="#2aa83a" />
<ellipse cx="431.2" cy="320.5" rx="2.5" ry="1.2" fill="#2aa83a" />
<ellipse cx="420.0" cy="278.0" rx="3.0" ry="1.5" fill="#2aa83a" />
<ellipse cx="545.0" cy="350.5" rx="2.5" ry="1.5" fill="#2aa83a" />
<ellipse cx="512.5" cy="375.0" rx="2.0" ry="3.0" fill="#2aa83a" />
<ellipse cx="560.0" cy="342.5" rx="2.5" ry="3.5" fill="#2aa83a" />
<ellipse cx="541.2" cy="342.5" rx="3.0" ry="2.5" fill="#2aa83a" />
</g>
<g filter="url(#spot)" opacity="1">
<ellipse cx="202.5" cy="293.0" rx="3.0" ry="1.5" fill="#1a1e78" />
<ellipse cx="203.8" cy="298.0" rx="2.5" ry="1.2" fill="#1a1e78" />
<ellipse cx="196.2" cy="314.8" rx="3.5" ry="1.2" fill="#1a1e78" />
<ellipse cx="180.0" cy="326.0" rx="2.0" ry="2.5" fill="#1a1e78" />
<ellipse cx="276.2" cy="300.5" rx="2.0" ry="2.5" fill="#1a1e78" />
<ellipse cx="253.8" cy="307.2" rx="2.5" ry="1.2" fill="#1a1e78" />
<ellipse cx="241.2" cy="345.5" rx="1.8" ry="1.0" fill="#1a1e78" />
<ellipse cx="391.2" cy="183.8" rx="1.2" ry="1.5" fill="#1a1e78" />
<ellipse cx="366.2" cy="170.0" rx="1.5" ry="0.8" fill="#1a1e78" />
<ellipse cx="432.5" cy="227.5" rx="1.2" ry="4.5" fill="#1a1e78" />
<ellipse cx="372.5" cy="236.2" rx="5.5" ry="1.8" fill="#1a1e78" />
<ellipse cx="357.5" cy="243.0" rx="3.0" ry="1.2" fill="#1a1e78" />
<ellipse cx="345.0" cy="264.0" rx="1.5" ry="1.2" fill="#1a1e78" />
<ellipse cx="397.5" cy="324.0" rx="2.0" ry="1.2" fill="#1a1e78" />
<ellipse cx="432.5" cy="288.5" rx="2.5" ry="1.5" fill="#1a1e78" />
<ellipse cx="372.5" cy="294.8" rx="1.5" ry="1.2" fill="#1a1e78" />
<ellipse cx="327.5" cy="283.5" rx="1.2" ry="1.2" fill="#1a1e78" />
<ellipse cx="351.2" cy="373.0" rx="4.0" ry="1.5" fill="#1a1e78" />
<ellipse cx="362.5" cy="379.5" rx="1.8" ry="1.2" fill="#1a1e78" />
<ellipse cx="336.2" cy="384.2" rx="1.8" ry="1.2" fill="#1a1e78" />
<ellipse cx="277.5" cy="373.8" rx="2.5" ry="0.8" fill="#1a1e78" />
<ellipse cx="241.2" cy="345.0" rx="1.5" ry="1.2" fill="#1a1e78" />
<ellipse cx="363.8" cy="379.5" rx="2.0" ry="1.2" fill="#1a1e78" />
<ellipse cx="397.5" cy="323.8" rx="1.2" ry="1.0" fill="#1a1e78" />
<ellipse cx="437.5" cy="405.0" rx="1.8" ry="1.0" fill="#1a1e78" />
<ellipse cx="453.8" cy="387.0" rx="1.0" ry="0.8" fill="#1a1e78" />
<ellipse cx="393.8" cy="357.0" rx="1.0" ry="0.9" fill="#1a1e78" />
<ellipse cx="398.0" cy="365.5" rx="0.9" ry="0.8" fill="#1a1e78" />
<ellipse cx="453.8" cy="387.0" rx="1.2" ry="1.0" fill="#1a1e78" />
<ellipse cx="442.0" cy="401.2" rx="1.5" ry="1.2" fill="#1a1e78" />
<ellipse cx="431.2" cy="231.2" rx="1.2" ry="3.0" fill="#1a1e78" />
<ellipse cx="416.2" cy="252.0" rx="5.0" ry="1.5" fill="#1a1e78" />
<ellipse cx="402.5" cy="232.5" rx="1.5" ry="1.0" fill="#1a1e78" />
<ellipse cx="425.0" cy="253.0" rx="3.0" ry="1.2" fill="#1a1e78" />
<ellipse cx="158.0" cy="204.0" rx="1.5" ry="1.5" fill="#1a1e78" />
<ellipse cx="192.0" cy="200.0" rx="1.5" ry="1.5" fill="#1a1e78" />
<ellipse cx="228.8" cy="182.5" rx="1.8" ry="1.2" fill="#1a1e78" />
<ellipse cx="242.5" cy="178.0" rx="2.0" ry="0.8" fill="#1a1e78" />
<ellipse cx="203.0" cy="293.5" rx="2.5" ry="1.2" fill="#1a1e78" />
<ellipse cx="204.5" cy="298.0" rx="2.2" ry="1.2" fill="#1a1e78" />
<ellipse cx="249.0" cy="251.0" rx="2.0" ry="1.0" fill="#1a1e78" />
<ellipse cx="247.5" cy="255.0" rx="2.0" ry="1.0" fill="#1a1e78" />
<ellipse cx="252.0" cy="261.0" rx="2.0" ry="1.5" fill="#1a1e78" />
<ellipse cx="255.0" cy="210.0" rx="6.0" ry="4.0" fill="#1a1e78" />
<ellipse cx="262.0" cy="213.0" rx="5.0" ry="3.5" fill="#1a1e78" />
<ellipse cx="283.0" cy="223.0" rx="6.0" ry="3.0" fill="#1a1e78" />
<ellipse cx="332.5" cy="214.0" rx="4.0" ry="5.0" fill="#1a1e78" />
</g>
<path d="M278.8 365.0 C279.1 364.1 281.6 362.3 283.8 362.0 C285.9 361.7 292.2 362.5 295.0 363.0 C297.8 363.5 303.0 365.1 305.0 365.5 C307.0 365.9 310.7 365.9 310.0 366.2 C309.3 366.6 302.3 367.5 300.0 368.0 C297.7 368.5 294.3 369.6 292.5 370.0 C290.7 370.4 287.8 371.4 286.2 371.2 C284.8 371.1 282.2 369.6 281.2 368.8 C280.2 367.9 278.4 365.9 278.8 365.0Z" fill="#9cc4e4" />
<ellipse cx="318.8" cy="370.5" rx="6.2" ry="2.8" fill="#9cc4e4" transform="rotate(10 318.8 370.5)" />
</g>
<polygon points="155.0,198.8 172.5,193.8 187.5,191.2 202.5,186.2 215.0,184.5 222.5,177.5 230.0,168.8 242.5,164.5 250.0,166.2 260.0,165.0 280.0,161.5 305.0,162.5 317.5,161.2 330.0,159.5 340.0,158.8 342.5,153.8 355.0,147.0 367.5,146.2 376.2,144.5 377.0,146.2 373.8,157.0 390.0,171.2 415.0,188.8 437.5,194.5 438.8,197.5 435.0,201.2 431.2,205.0 427.5,212.5 430.0,217.5 433.8,227.5 437.5,242.5 438.8,248.8 443.8,257.5 450.0,266.2 460.0,272.5 467.5,274.5 477.5,275.0 483.8,280.0 486.2,286.2 493.8,290.0 500.0,296.2 507.5,302.5 515.0,305.5 522.5,308.8 530.0,312.5 540.0,318.8 547.5,323.8 557.5,325.0 570.0,324.5 575.0,326.2 576.8,330.0 575.0,337.5 570.0,346.2 565.0,353.8 557.5,358.8 552.5,362.5 550.0,368.8 540.0,370.0 533.8,373.8 533.0,377.5 536.2,381.2 535.0,386.2 525.0,391.2 515.0,393.8 508.8,396.2 507.5,401.2 500.0,403.0 490.0,403.0 483.8,405.0 478.8,402.5 476.2,407.5 470.0,413.0 460.0,416.2 453.8,420.0 445.0,416.2 435.0,412.5 426.2,407.5 418.8,400.0 412.5,392.5 406.2,387.5 395.0,383.8 385.0,382.0 381.2,385.0 378.8,382.5 372.5,386.2 365.0,388.8 352.5,391.2 340.0,393.8 325.0,392.5 315.0,394.5 306.2,396.2 297.5,393.8 287.5,394.5 277.5,393.8 271.2,397.5 270.0,398.0 257.5,395.0 245.0,386.2 232.5,376.2 220.0,370.0 205.0,367.5 195.0,365.0 187.5,358.8 185.0,350.0 177.5,342.5 168.8,335.0 165.0,323.8 157.5,317.5 152.5,307.5 152.5,305.0 147.5,300.0 138.8,297.5 135.5,293.8 140.0,285.0 143.8,277.5 146.2,265.0 147.5,257.5 145.0,250.0 146.2,245.0 147.5,238.8 152.5,236.2 160.0,230.0 165.0,225.0 170.0,220.0 173.8,215.0 170.0,213.8 160.0,214.5 156.2,212.5 157.5,207.5 153.8,205.0" fill="none" stroke="#2a2a1c" stroke-width="1.15" stroke-linejoin="round" filter="url(#wig)"/>
<polyline points="152.5,307.5 157.5,317.5 165.0,323.8 168.8,335.0 177.5,342.5 185.0,350.0 187.5,358.8 195.0,365.0 205.0,367.5 220.0,370.0 232.5,376.2 245.0,386.2 257.5,395.0 270.0,398.0" fill="none" stroke="#1c2238" stroke-width="1.3" stroke-linejoin="round" filter="url(#wig)"/>
<polyline points="222.5,177.5 230.0,181.0 237.5,184.7 246.9,187.8 256.0,191.0 263.3,195.6 261.7,201.9 257.8,206.5" fill="none" stroke="#2e2c1c" stroke-width="0.9" />
<polyline points="253.0,221.4 259.4,230.0 263.3,234.0" fill="none" stroke="#2e2c1c" stroke-width="0.9" />
<polyline points="180.0,320.0 187.5,313.5 192.5,304.8 197.5,297.0 200.0,289.0 192.5,286.0 190.0,273.5 185.0,267.0 172.5,261.0 187.5,256.0 210.0,249.5 265.6,234.0 300.0,233.0 365.0,233.8 380.0,240.0 436.0,244.8" fill="none" stroke="#2e2c1c" stroke-width="0.9" stroke-linejoin="round"/>
<line x1="67.5" y1="214.5" x2="147.5" y2="266.0" stroke="#4c4c46" stroke-width="0.9"/>
<line x1="127.0" y1="375.0" x2="155.0" y2="313.0" stroke="#4c4c46" stroke-width="0.9"/>
<line x1="247.5" y1="101.0" x2="217.5" y2="229.0" stroke="#4c4c46" stroke-width="0.9"/>
<line x1="465.0" y1="113.5" x2="340.0" y2="212.0" stroke="#4c4c46" stroke-width="0.9"/>
<line x1="510.0" y1="213.8" x2="475.0" y2="271.0" stroke="#4c4c46" stroke-width="0.9"/>
<path d="M447.5 244.0 C447.6 243.2 449.8 243.3 451.0 243.6 C452.2 243.9 453.7 245.0 455.0 246.0 C456.3 247.0 458.1 248.4 458.6 249.5 C459.1 250.6 458.8 252.1 458.0 252.4 C457.2 252.7 455.2 252.2 454.0 251.5 C452.8 250.8 451.6 249.8 450.5 248.5 C449.4 247.2 447.4 244.8 447.5 244.0Z" fill="#7c7c48" stroke="#14140e" stroke-width="1.4"/>
<path d="M452.5 258.6 C452.8 258.0 454.6 257.7 456.0 258.2 C457.4 258.7 459.3 260.6 461.0 261.5 C462.7 262.4 464.5 262.8 466.0 263.5 C467.5 264.2 469.6 265.2 470.0 266.0 C470.4 266.8 469.7 267.8 468.5 268.0 C467.3 268.2 464.8 267.9 463.0 267.5 C461.2 267.1 459.5 266.4 458.0 265.5 C456.5 264.6 454.9 263.1 454.0 262.0 C453.1 260.9 452.2 259.2 452.5 258.6Z" fill="#bccc5c" stroke="#14140e" stroke-width="1.3"/>
<path d="M501.2 283.0 C501.8 282.4 503.0 281.8 503.8 282.2 C504.5 282.8 505.0 284.7 505.5 286.0 C506.0 287.3 506.8 289.2 506.5 290.0 C506.2 290.8 504.6 291.2 503.8 291.0 C502.9 290.8 501.8 289.8 501.2 289.0 C500.7 288.2 500.5 287.0 500.5 286.0 C500.5 285.0 500.7 283.6 501.2 283.0Z" fill="#e0e480" stroke="#3a3a20" stroke-width="0.8"/>
<path d="M429.5 201.2 C430.0 200.8 431.1 202.3 432.0 202.0 C432.9 201.7 434.4 199.4 435.0 199.5 C435.6 199.6 435.1 201.8 435.5 202.5 C435.9 203.2 437.7 203.3 437.5 203.8 C437.3 204.2 435.1 204.4 434.5 205.0 C433.9 205.6 434.2 207.5 433.8 207.5 C433.3 207.5 432.8 205.5 432.0 205.0 C431.2 204.5 429.4 205.1 429.0 204.5 C428.6 203.9 429.0 201.7 429.5 201.2Z" fill="#15183a" />
<polygon points="333.1,111.5 332.1,130 331.5,170 330.9,200 329.4,220 336.8,220 335.3,200 334.7,170 334.1,130" fill="url(#sg)"/>
<polygon points="287.5,198.5 286.0,220.0 289.6,220.0" fill="url(#sg)" />
<polygon points="216.3,204 215.8,227 219.6,228.5" fill="url(#sg)"/>
<polygon points="236.8,208.0 235.2,219.5 238.6,219.5" fill="url(#sg)" />
<polygon points="268.8,198.0 267.3,212.0 270.6,212.0" fill="url(#sg)" />
<polygon points="276.8,252.5 275.4,276.5 278.6,276.5" fill="#1e5a3a" />
<polygon points="211.3,246.0 210.0,256.5 213.0,256.5" fill="#1e4a4a" />
<polygon points="461.9,235.5 459.4,265 461.4,265" fill="#4a4aa4"/>
<path d="M475.7,251.8 C474,262 471,271 466.5,276 L471,277.5 L478.2,277 C477.2,268 476.6,260 475.7,251.8 Z" fill="url(#sg2)"/>
<g clip-path="url(#c_a)">
<rect x="1.60" y="326.30" width="125.10" height="93.00" fill="#e2f76c"/>
<rect x="20" y="326" width="107" height="94" fill="#e2f76c"/>
<g filter="url(#i_lgreen)" fill="#a0f050">
<ellipse cx="117.2" cy="370.1" rx="13.5" ry="49.6" fill="#a0f050" fill-opacity="0.7"/>
<ellipse cx="94.6" cy="338.5" rx="20.3" ry="13.5" fill="#a0f050" fill-opacity="0.7"/>
<ellipse cx="67.6" cy="338.5" rx="9.0" ry="13.5" fill="#a0f050" fill-opacity="0.7"/>
<ellipse cx="101.4" cy="410.6" rx="18.0" ry="11.3" fill="#a0f050" fill-opacity="0.7"/>
</g>
<g filter="url(#i_lgreen)" fill="#84ea46">
<ellipse cx="101.4" cy="336.3" rx="20.3" ry="11.3" fill="#84ea46" fill-opacity="0.8"/>
<ellipse cx="119.4" cy="358.8" rx="9.0" ry="13.5" fill="#84ea46" fill-opacity="0.8"/>
<ellipse cx="85.6" cy="347.5" rx="9.0" ry="6.8" fill="#84ea46" fill-opacity="0.8"/>
</g>
<g filter="url(#i_yel)" fill="#f0fa6a">
<ellipse cx="40.6" cy="345.3" rx="15.8" ry="20.3" fill="#f0fa6a" fill-opacity="0.75"/>
<ellipse cx="121.7" cy="399.4" rx="6.8" ry="18.0" fill="#f0fa6a" fill-opacity="0.75"/>
<ellipse cx="101.4" cy="399.4" rx="9.0" ry="6.8" fill="#f0fa6a" fill-opacity="0.75"/>
<ellipse cx="122.8" cy="338.5" rx="3.4" ry="9.0" fill="#f0fa6a" fill-opacity="0.75"/>
</g>
<g filter="url(#i_green)" fill="#44e034">
<path d="M51.8 355.4 C54.3 353.9 63.5 355.2 67.6 356.5 C71.7 357.9 74.7 361.3 76.6 363.3 C78.6 365.3 78.2 368.6 79.3 368.3 C80.4 367.9 81.6 362.6 83.4 361.0 C85.2 359.5 87.1 358.4 90.1 358.8 C93.1 359.2 98.4 361.0 101.4 363.3 C104.4 365.6 105.6 369.0 108.1 372.3 C110.7 375.6 117.1 380.4 116.7 383.1 C116.3 385.8 109.6 386.6 105.9 388.5 C102.2 390.5 97.3 391.9 94.6 394.8 C92.0 397.8 91.6 402.7 90.1 406.1 C88.6 409.5 88.2 412.7 85.6 415.1 C83.0 417.6 78.5 419.8 74.4 420.8 C70.2 421.7 63.1 423.9 60.8 420.8 C58.6 417.6 60.5 406.3 60.8 401.6 C61.2 396.9 63.1 395.6 63.1 392.6 C63.1 389.6 61.6 387.0 60.8 383.6 C60.1 380.2 59.9 375.3 58.6 372.3 C57.3 369.3 54.1 368.4 52.9 365.6 C51.8 362.7 49.4 356.9 51.8 355.4Z" fill="#44e034" fill-opacity="0.95"/>
</g>
<g filter="url(#i_lgreen)" fill="#6ee640">
<ellipse cx="74.4" cy="401.6" rx="11.3" ry="13.5" fill="#6ee640" fill-opacity="0.7"/>
<ellipse cx="99.1" cy="383.6" rx="9.0" ry="6.8" fill="#6ee640" fill-opacity="0.7"/>
</g>
<g filter="url(#i_dgreen)" fill="#30c43c">
<ellipse cx="63.1" cy="363.3" rx="11.3" ry="7.9" fill="#30c43c" fill-opacity="0.8"/>
<ellipse cx="72.1" cy="376.8" rx="6.8" ry="9.0" fill="#30c43c" fill-opacity="0.8"/>
<ellipse cx="94.6" cy="347.5" rx="4.5" ry="2.3" fill="#30c43c" fill-opacity="0.8"/>
<ellipse cx="90.1" cy="334.0" rx="6.8" ry="2.7" fill="#30c43c" fill-opacity="0.8"/>
<ellipse cx="65.3" cy="390.3" rx="3.4" ry="2.3" fill="#30c43c" fill-opacity="0.8"/>
</g>
<g filter="url(#i_teal)" fill="#3aa494">
<ellipse cx="87.9" cy="363.3" rx="4.1" ry="4.1" fill="#3aa494" fill-opacity="0.85"/>
<ellipse cx="93.5" cy="372.3" rx="5.0" ry="3.2" fill="#3aa494" fill-opacity="0.85"/>
<ellipse cx="99.1" cy="365.6" rx="2.3" ry="2.3" fill="#3aa494" fill-opacity="0.85"/>
<ellipse cx="99.1" cy="354.3" rx="1.8" ry="1.8" fill="#3aa494" fill-opacity="0.85"/>
</g>
<g filter="url(#i_navy)" fill="#2a3aa4">
<ellipse cx="66.5" cy="373.4" rx="7.2" ry="6.8" fill="#2a3aa4" fill-opacity="0.95"/>
<ellipse cx="67.6" cy="382.5" rx="5.0" ry="4.1" fill="#2a3aa4" fill-opacity="0.95"/>
<ellipse cx="63.1" cy="368.9" rx="3.4" ry="2.3" fill="#2a3aa4" fill-opacity="0.95"/>
</g>
<g filter="url(#i_yel)" fill="#f4f8a0">
<ellipse cx="65.3" cy="369.6" rx="3.2" ry="1.1" fill="#f4f8a0" fill-opacity="1"/>
</g>
<path d="M22.1 365.6 C23.1 364.1 31.9 364.3 33.8 364.4 C35.6 364.5 39.0 366.2 40.6 366.7 C42.1 367.1 47.9 368.6 49.6 368.9 C51.3 369.3 56.3 369.3 57.5 370.1 C58.6 370.8 60.6 375.2 60.8 376.8 C61.1 378.4 59.6 384.3 59.7 385.8 C59.8 387.4 62.0 391.0 62.0 392.6 C62.0 394.2 60.0 398.8 59.7 401.6 C59.4 404.4 61.8 418.8 59.0 420.8 C56.2 422.7 34.5 422.2 31.5 420.8 C28.6 419.3 29.7 408.9 29.3 406.1 C28.8 403.3 27.6 395.3 27.0 392.6 C26.5 389.9 24.2 381.8 23.7 379.1 C23.2 376.4 21.1 367.0 22.1 365.6Z" fill="#8ad2f4" />
<path d="M0.0 325.0 C2.5 315.4 22.4 324.1 24.8 325.0 C27.2 325.9 23.9 332.2 24.3 334.0 C24.8 335.8 29.5 341.0 29.3 343.0 C29.1 345.1 23.3 352.0 22.5 354.3 C21.7 356.5 21.3 363.1 21.4 365.6 C21.5 368.0 23.1 376.4 23.7 379.1 C24.2 381.8 26.5 389.9 27.0 392.6 C27.6 395.3 28.8 403.3 29.3 406.1 C29.8 408.9 34.9 419.3 32.0 420.8 C29.1 422.2 3.2 430.3 0.0 420.8 C-3.2 411.2 -2.5 334.6 0.0 325.0Z" fill="#ffffff" />
</g>
<rect x="1.60" y="326.30" width="125.10" height="93.00" fill="none" stroke="#cacac6" stroke-width="0.6"/>
<text x="1.9" y="415.3" font-size="14.2" letter-spacing="0.6" stroke="#111" stroke-width="0.4">(a)</text>
<g clip-path="url(#c_b)">
<rect x="6.75" y="120.25" width="128.50" height="94.00" fill="#acf252"/>
<g filter="url(#i_lime)" fill="#cff364">
<ellipse cx="72.9" cy="186.9" rx="44.6" ry="17.8" fill="#cff364" fill-opacity="0.7"/>
<ellipse cx="106.3" cy="164.6" rx="22.3" ry="13.4" fill="#cff364" fill-opacity="0.7"/>
<ellipse cx="39.4" cy="175.7" rx="17.8" ry="13.4" fill="#cff364" fill-opacity="0.7"/>
<ellipse cx="117.5" cy="204.7" rx="22.3" ry="11.1" fill="#cff364" fill-opacity="0.7"/>
<ellipse cx="28.3" cy="204.7" rx="17.8" ry="8.9" fill="#cff364" fill-opacity="0.7"/>
<ellipse cx="79.6" cy="149.0" rx="8.9" ry="8.9" fill="#cff364" fill-opacity="0.7"/>
<ellipse cx="14.9" cy="133.4" rx="8.9" ry="11.1" fill="#cff364" fill-opacity="0.7"/>
</g>
<g filter="url(#i_lgreen)" fill="#8eea4e">
<ellipse cx="79.6" cy="131.1" rx="26.8" ry="12.3" fill="#8eea4e" fill-opacity="0.9"/>
<ellipse cx="119.7" cy="128.9" rx="16.7" ry="10.0" fill="#8eea4e" fill-opacity="0.9"/>
<ellipse cx="21.6" cy="151.2" rx="12.3" ry="12.3" fill="#8eea4e" fill-opacity="0.9"/>
<ellipse cx="99.7" cy="149.0" rx="13.4" ry="8.9" fill="#8eea4e" fill-opacity="0.9"/>
<ellipse cx="126.4" cy="164.6" rx="8.9" ry="6.7" fill="#8eea4e" fill-opacity="0.9"/>
<ellipse cx="59.5" cy="182.4" rx="8.9" ry="5.6" fill="#8eea4e" fill-opacity="0.9"/>
<ellipse cx="28.3" cy="133.4" rx="13.4" ry="6.7" fill="#8eea4e" fill-opacity="0.9"/>
<ellipse cx="10.5" cy="186.9" rx="4.5" ry="13.4" fill="#8eea4e" fill-opacity="0.9"/>
<ellipse cx="43.9" cy="146.8" rx="8.9" ry="8.9" fill="#8eea4e" fill-opacity="0.9"/>
</g>
<g filter="url(#i_yel)" fill="#ecf66e">
<ellipse cx="57.7" cy="203.6" rx="2.7" ry="10.0" fill="#ecf66e" fill-opacity="0.85"/>
<ellipse cx="95.2" cy="181.3" rx="13.4" ry="1.8" fill="#ecf66e" transform="rotate(30 95.2 181.3)" fill-opacity="0.85"/>
<ellipse cx="106.3" cy="198.0" rx="7.8" ry="6.7" fill="#ecf66e" fill-opacity="0.85"/>
<ellipse cx="122.0" cy="133.4" rx="6.7" ry="1.3" fill="#ecf66e" transform="rotate(30 122.0 133.4)" fill-opacity="0.85"/>
<ellipse cx="79.6" cy="209.2" rx="13.4" ry="4.5" fill="#ecf66e" fill-opacity="0.85"/>
<ellipse cx="50.6" cy="209.2" rx="6.7" ry="3.3" fill="#ecf66e" fill-opacity="0.85"/>
<ellipse cx="90.7" cy="193.6" rx="11.1" ry="4.5" fill="#ecf66e" fill-opacity="0.85"/>
<ellipse cx="124.2" cy="144.5" rx="4.5" ry="1.8" fill="#ecf66e" transform="rotate(30 124.2 144.5)" fill-opacity="0.85"/>
</g>
<rect x="6" y="120" width="130" height="95" filter="url(#grain_b)"/>
<g fill="none" stroke-linecap="round" filter="url(#b05)"><path d="M42.5 135 Q50 146 58.8 157.5" stroke="#38c84c" stroke-width="1.6"/><path d="M47.5 141.5 Q54 150 61.5 159" stroke="#44cc50" stroke-width="1.3"/><path d="M52.5 140 Q59 148 64.5 155.5" stroke="#3a9a88" stroke-width="1.7"/><path d="M57 141 Q61 147 66 153" stroke="#4cb870" stroke-width="1.1"/></g>
<g filter="url(#i_navy)" fill="#6a5aa8">
<ellipse cx="82.9" cy="161.3" rx="4.9" ry="2.7" fill="#6a5aa8" fill-opacity="0.6"/>
<ellipse cx="86.3" cy="165.7" rx="2.7" ry="1.8" fill="#6a5aa8" fill-opacity="0.6"/>
<ellipse cx="76.2" cy="156.8" rx="2.2" ry="1.3" fill="#6a5aa8" fill-opacity="0.6"/>
</g>
<g fill="#1c229a" filter="url(#b05)"><ellipse cx="68.3" cy="164" rx="4.6" ry="7"/><ellipse cx="74.6" cy="166.8" rx="3.2" ry="4.6"/><ellipse cx="71.8" cy="156.6" rx="2.4" ry="1.5"/><ellipse cx="66" cy="160" rx="2" ry="3"/></g>
<g fill="#d8c8b0" filter="url(#b05)"><ellipse cx="73.4" cy="160.6" rx="2.2" ry="1.2" transform="rotate(25 73.4 160.6)"/></g>
<ellipse cx="71.1" cy="169.5" rx="2.8" ry="2.3" fill="#44cc44" filter="url(#b05)"/>
</g>
<rect x="6.75" y="120.25" width="128.50" height="94.00" fill="none" stroke="#cacac6" stroke-width="0.6"/>
<text x="7.0" y="210.2" font-size="14.2" letter-spacing="0.6" stroke="#111" stroke-width="0.4">(b)</text>
<g clip-path="url(#c_c)">
<rect x="185.00" y="6.50" width="128.50" height="94.00" fill="#eef872"/>
<g filter="url(#i_lime)" fill="#d2f566">
<ellipse cx="199.0" cy="36.0" rx="22.0" ry="32.0" fill="#d2f566" fill-opacity="0.7"/>
<ellipse cx="235.0" cy="14.0" rx="40.0" ry="12.0" fill="#d2f566" fill-opacity="0.7"/>
<ellipse cx="289.0" cy="16.0" rx="16.0" ry="10.0" fill="#d2f566" fill-opacity="0.7"/>
<ellipse cx="281.0" cy="52.0" rx="18.0" ry="12.0" fill="#d2f566" fill-opacity="0.7"/>
<ellipse cx="235.0" cy="66.0" rx="16.0" ry="12.0" fill="#d2f566" fill-opacity="0.7"/>
<ellipse cx="215.0" cy="82.0" rx="16.0" ry="10.0" fill="#d2f566" fill-opacity="0.7"/>
</g>
<g filter="url(#i_yel)" fill="#f8fa7a">
<ellipse cx="305.0" cy="16.0" rx="8.0" ry="12.0" fill="#f8fa7a" fill-opacity="0.8"/>
<ellipse cx="211.0" cy="72.0" rx="16.0" ry="8.0" fill="#f8fa7a" fill-opacity="0.8"/>
<ellipse cx="197.0" cy="18.0" rx="8.0" ry="6.0" fill="#f8fa7a" fill-opacity="0.8"/>
<ellipse cx="291.0" cy="66.0" rx="12.0" ry="6.0" fill="#f8fa7a" fill-opacity="0.8"/>
<ellipse cx="221.0" cy="52.0" rx="6.0" ry="4.0" fill="#f8fa7a" fill-opacity="0.8"/>
</g>
<g filter="url(#i_lgreen)" fill="#a6f052">
<ellipse cx="249.0" cy="44.0" rx="20.0" ry="20.0" fill="#a6f052" fill-opacity="0.7"/>
<ellipse cx="275.0" cy="40.0" rx="10.0" ry="8.0" fill="#a6f052" fill-opacity="0.7"/>
<ellipse cx="253.0" cy="26.0" rx="8.0" ry="10.0" fill="#a6f052" fill-opacity="0.7"/>
<ellipse cx="205.0" cy="63.0" rx="4.0" ry="5.0" fill="#a6f052" fill-opacity="0.7"/>
<ellipse cx="285.0" cy="12.0" rx="6.0" ry="3.0" fill="#a6f052" fill-opacity="0.7"/>
</g>
<g filter="url(#i_green)" fill="#56dc3c">
<ellipse cx="253.0" cy="26.0" rx="3.6" ry="6.0" fill="#56dc3c" fill-opacity="0.85"/>
<ellipse cx="239.0" cy="24.0" rx="4.0" ry="2.8" fill="#56dc3c" fill-opacity="0.85"/>
<ellipse cx="229.0" cy="32.0" rx="4.0" ry="2.8" fill="#56dc3c" fill-opacity="0.85"/>
<ellipse cx="260.0" cy="39.0" rx="6.0" ry="7.0" fill="#56dc3c" fill-opacity="0.85"/>
<ellipse cx="251.0" cy="62.0" rx="8.0" ry="6.0" fill="#56dc3c" fill-opacity="0.85"/>
<ellipse cx="235.0" cy="52.0" rx="7.0" ry="6.0" fill="#56dc3c" fill-opacity="0.85"/>
<ellipse cx="243.0" cy="68.0" rx="5.0" ry="3.0" fill="#56dc3c" fill-opacity="0.85"/>
<ellipse cx="204.0" cy="63.0" rx="2.8" ry="3.6" fill="#56dc3c" fill-opacity="0.85"/>
<ellipse cx="275.0" cy="43.0" rx="5.0" ry="5.0" fill="#56dc3c" fill-opacity="0.85"/>
<ellipse cx="251.0" cy="44.0" rx="14.0" ry="12.0" fill="#56dc3c" fill-opacity="0.85"/>
<ellipse cx="235.0" cy="84.0" rx="6.0" ry="5.0" fill="#56dc3c" fill-opacity="0.85"/>
</g>
<g filter="url(#i_teal)" fill="#2e7aa0">
<ellipse cx="249.0" cy="46.0" rx="11.0" ry="10.0" fill="#2e7aa0" fill-opacity="0.7"/>
<ellipse cx="276.0" cy="40.0" rx="5.0" ry="3.6" fill="#2e7aa0" fill-opacity="0.8"/>
<ellipse cx="306.0" cy="60.0" rx="1.4" ry="3.6" fill="#2e7aa0" fill-opacity="0.8"/>
<ellipse cx="309.4" cy="38.0" rx="2.4" ry="1.2" fill="#2e7aa0" fill-opacity="0.8"/>
<ellipse cx="239.0" cy="53.0" rx="5.0" ry="3.0" fill="#2e7aa0" fill-opacity="0.8"/>
<ellipse cx="273.0" cy="44.0" rx="2.4" ry="2.4" fill="#2e7aa0" fill-opacity="0.8"/>
</g>
<g filter="url(#i_blue)" fill="#2450b0">
<ellipse cx="245.0" cy="40.0" rx="7.0" ry="6.0" fill="#2450b0" fill-opacity="0.75"/>
<ellipse cx="252.0" cy="46.0" rx="5.6" ry="5.0" fill="#2450b0" fill-opacity="0.75"/>
<ellipse cx="244.0" cy="51.0" rx="5.0" ry="5.0" fill="#2450b0" fill-opacity="0.75"/>
<ellipse cx="250.0" cy="55.0" rx="4.0" ry="3.0" fill="#2450b0" fill-opacity="0.75"/>
</g>
<g filter="url(#i_navy)" fill="#1a2090">
<ellipse cx="245.0" cy="39.0" rx="5.6" ry="4.8" fill="#1a2090" fill-opacity="0.8"/>
<ellipse cx="252.0" cy="44.0" rx="4.4" ry="3.6" fill="#1a2090" fill-opacity="0.8"/>
<ellipse cx="243.0" cy="49.0" rx="4.4" ry="4.4" fill="#1a2090" fill-opacity="0.8"/>
<ellipse cx="249.0" cy="54.0" rx="3.2" ry="2.4" fill="#1a2090" fill-opacity="0.75"/>
<ellipse cx="231.0" cy="86.0" rx="2.0" ry="1.6" fill="#1a2090" fill-opacity="0.95"/>
</g>
<g filter="url(#i_green)" fill="#7ae048">
<ellipse cx="254.0" cy="51.0" rx="2.4" ry="1.8" fill="#7ae048" fill-opacity="0.95"/>
<ellipse cx="247.0" cy="45.0" rx="1.4" ry="1.2" fill="#7ae048" fill-opacity="0.95"/>
<ellipse cx="257.0" cy="40.0" rx="2.0" ry="2.4" fill="#7ae048" fill-opacity="0.95"/>
</g>
<g filter="url(#i_yel)" fill="#f4f4a0">
<ellipse cx="252.0" cy="50.4" rx="1.4" ry="1.0" fill="#f4f4a0" fill-opacity="1"/>
<ellipse cx="255.0" cy="54.0" rx="1.2" ry="1.0" fill="#f4f4a0" fill-opacity="1"/>
</g>
<path d="M213.0 87.0 C213.7 86.4 219.7 88.4 221.0 88.0 C222.3 87.6 224.8 83.4 226.0 83.0 C227.2 82.6 231.6 84.3 233.0 84.0 C234.4 83.7 238.8 80.8 240.0 80.0 C241.2 79.2 244.3 76.8 245.0 76.0 C245.7 75.2 246.4 72.8 247.0 72.0 C247.6 71.2 250.1 69.0 251.0 68.0 C251.9 67.0 255.2 63.3 256.0 62.0 C256.8 60.7 258.4 55.9 259.0 55.0 C259.6 54.1 261.5 52.9 262.0 53.0 C262.5 53.1 264.0 54.9 264.0 56.0 C264.0 57.1 261.5 62.8 262.0 64.0 C262.5 65.2 267.8 67.3 269.0 68.0 C270.2 68.7 274.0 70.3 274.0 71.0 C274.0 71.7 270.0 74.3 269.0 75.0 C268.0 75.7 264.7 77.3 264.0 78.0 C263.3 78.7 261.5 81.5 262.0 82.0 C262.5 82.5 267.5 83.2 269.0 83.0 C270.5 82.8 275.8 80.1 277.0 80.0 C278.2 79.9 280.2 82.3 281.0 82.0 C281.8 81.7 283.8 77.9 285.0 77.0 C286.2 76.1 291.8 73.8 293.0 73.0 C294.2 72.2 296.2 69.4 297.0 69.0 C297.8 68.6 300.7 68.3 301.0 69.0 C301.3 69.7 299.9 74.7 300.0 76.0 C300.1 77.3 301.5 80.9 302.0 82.0 C302.5 83.1 303.8 86.7 305.0 87.0 C306.2 87.3 313.1 83.6 314.0 85.0 C314.9 86.4 323.9 99.4 314.0 101.0 C304.1 102.6 225.0 101.7 215.0 101.0 C205.0 100.3 214.2 95.4 214.0 94.0 C213.8 92.6 212.3 87.6 213.0 87.0Z" fill="#8ad2f4" />
<g filter="url(#i_yel)" fill="#f8fa7a">
<ellipse cx="286.0" cy="98.0" rx="3.6" ry="2.4" fill="#f8fa7a" fill-opacity="1"/>
</g>
<g filter="url(#i_green)" fill="#56dc3c">
<ellipse cx="232.0" cy="88.0" rx="4.0" ry="5.0" fill="#56dc3c" fill-opacity="0.9"/>
<ellipse cx="237.0" cy="82.0" rx="3.0" ry="3.0" fill="#56dc3c" fill-opacity="0.9"/>
</g>
<g filter="url(#i_navy)" fill="#1a2090">
<ellipse cx="229.4" cy="89.0" rx="1.6" ry="2.4" fill="#1a2090" fill-opacity="0.95"/>
</g>
</g>
<rect x="185.00" y="6.50" width="128.50" height="94.00" fill="none" stroke="#cacac6" stroke-width="0.6"/>
<text x="185.3" y="96.5" font-size="14.2" letter-spacing="0.6" stroke="#111" stroke-width="0.4">(c)</text>
<g clip-path="url(#c_d)">
<rect x="400.00" y="20.00" width="128.50" height="93.40" fill="#fcfc7a"/>
<g filter="url(#i_lime)">
<path d="M425.6 17.5 C436.9 16.0 526.3 13.5 537.5 17.5 C548.7 21.5 538.8 52.5 537.5 57.5 C536.2 62.5 527.5 65.9 525.0 67.5 C522.5 69.1 516.2 73.0 512.5 73.8 C508.8 74.5 490.8 74.6 487.5 75.0 C484.2 75.4 481.8 77.1 480.0 77.5 C478.2 77.9 472.0 78.6 470.0 78.8 C468.0 78.9 462.0 78.2 460.0 78.8 C458.0 79.2 450.5 82.9 450.0 83.8 C449.5 84.6 453.8 86.8 455.0 87.5 C456.2 88.2 462.0 90.6 462.5 91.2 C463.0 91.9 461.2 92.9 460.0 93.8 C458.8 94.6 452.2 99.0 450.0 100.0 C447.8 101.0 438.9 104.0 437.5 103.8 C436.1 103.5 435.9 99.4 435.6 97.5 C435.4 95.6 434.9 87.1 435.0 85.0 C435.1 82.9 436.8 78.0 436.2 76.2 C435.8 74.5 430.8 70.6 430.0 67.5 C429.2 64.4 429.2 48.5 428.8 45.0 C428.2 41.5 425.3 35.2 425.0 32.5 C424.7 29.8 414.4 19.0 425.6 17.5Z" fill="#e2f86c" fill-opacity="0.95"/>
</g>
<g filter="url(#i_yel)">
<ellipse cx="512.5" cy="62.5" rx="16.2" ry="12.5" fill="#fafa78" fill-opacity="0.8"/>
<ellipse cx="510.0" cy="80.8" rx="25.0" ry="15.0" fill="#fafa78" fill-opacity="0.8"/>
</g>
<g filter="url(#i_lgreen)">
<path d="M436.2 75.8 C437.8 75.6 448.1 82.1 450.0 83.2 C451.9 84.4 453.8 86.2 455.0 87.0 C456.2 87.8 462.0 90.1 462.5 90.8 C463.0 91.4 461.2 92.4 460.0 93.2 C458.8 94.1 452.2 98.5 450.0 99.5 C447.8 100.5 438.9 103.5 437.5 103.2 C436.1 103.0 435.9 98.9 435.6 97.0 C435.4 95.1 434.9 86.6 435.0 84.5 C435.1 82.4 434.8 75.9 436.2 75.8Z" fill="#a4f052" fill-opacity="0.85"/>
<ellipse cx="436.2" cy="66.2" rx="5.0" ry="7.5" fill="#a4f052" fill-opacity="0.85"/>
<ellipse cx="450.0" cy="38.8" rx="10.0" ry="10.0" fill="#a4f052" fill-opacity="0.5"/>
<ellipse cx="501.2" cy="27.5" rx="15.0" ry="6.2" fill="#a4f052" fill-opacity="0.6"/>
<ellipse cx="491.2" cy="45.0" rx="7.5" ry="7.5" fill="#a4f052" fill-opacity="0.6"/>
<ellipse cx="508.8" cy="67.6" rx="4.4" ry="3.1" fill="#a4f052" fill-opacity="0.7"/>
</g>
<g filter="url(#i_green)">
<path d="M426.2 20.0 C427.1 18.8 434.8 19.2 436.2 20.0 C437.8 20.8 441.1 26.0 441.2 27.5 C441.4 29.0 438.0 33.2 437.5 35.0 C437.0 36.8 436.2 43.0 436.2 45.0 C436.2 47.0 438.0 53.9 437.5 55.0 C437.0 56.1 432.1 56.6 431.2 55.6 C430.4 54.6 429.4 47.3 429.0 45.0 C428.6 42.7 427.5 35.0 427.2 32.5 C427.0 30.0 425.4 21.2 426.2 20.0Z" fill="#38dc32" fill-opacity="0.9"/>
<path d="M455.0 21.9 C457.5 20.6 479.8 19.2 482.5 20.6 C485.2 22.1 483.2 34.7 482.5 36.2 C481.8 37.8 475.9 35.4 475.0 36.2 C474.1 37.1 474.5 44.1 473.8 45.0 C473.0 45.9 468.2 45.9 467.5 45.0 C466.8 44.1 467.9 37.4 466.9 36.2 C465.9 35.1 458.7 35.2 457.5 33.8 C456.3 32.3 452.5 23.2 455.0 21.9Z" fill="#38dc32" fill-opacity="0.9"/>
<path d="M460.0 20.6 C463.8 19.1 493.9 20.2 497.5 20.6 C501.1 21.1 497.5 24.2 496.2 25.0 C495.0 25.8 486.4 27.9 485.0 28.8 C483.6 29.6 483.8 33.0 482.5 33.8 C481.2 34.5 474.0 35.8 472.5 36.2 C471.0 36.8 468.8 38.8 467.5 38.8 C466.2 38.8 460.8 38.1 460.0 36.2 C459.2 34.4 456.2 22.2 460.0 20.6Z" fill="#38dc32" fill-opacity="0.9"/>
<path d="M507.5 30.0 C507.9 29.4 513.5 30.5 513.8 31.2 C514.0 32.0 510.6 37.6 510.0 37.5 C509.4 37.4 507.1 30.6 507.5 30.0Z" fill="#38dc32" fill-opacity="0.9"/>
<ellipse cx="488.8" cy="41.2" rx="5.0" ry="5.6" fill="#38dc32" fill-opacity="0.9"/>
<ellipse cx="446.9" cy="90.1" rx="5.2" ry="6.2" fill="#38dc32" fill-opacity="0.7"/>
<ellipse cx="431.2" cy="67.0" rx="4.4" ry="5.0" fill="#38dc32" fill-opacity="0.9"/>
<ellipse cx="437.5" cy="65.0" rx="3.8" ry="6.2" fill="#38dc32" fill-opacity="0.9"/>
<ellipse cx="498.8" cy="60.6" rx="5.6" ry="1.9" fill="#38dc32" fill-opacity="0.9"/>
<ellipse cx="486.9" cy="80.1" rx="4.4" ry="4.4" fill="#38dc32" fill-opacity="0.9"/>
</g>
<g filter="url(#i_teal)">
<ellipse cx="444.7" cy="60.2" rx="7.8" ry="10.0" fill="#2e8cc0" fill-opacity="0.8"/>
<ellipse cx="459.2" cy="52.4" rx="6.2" ry="5.6" fill="#2e8cc0" fill-opacity="0.8"/>
<ellipse cx="473.7" cy="45.3" rx="5.6" ry="4.0" fill="#2e8cc0" fill-opacity="0.8"/>
<ellipse cx="452.5" cy="69.0" rx="6.7" ry="4.5" fill="#2e8cc0" fill-opacity="0.8"/>
<ellipse cx="523.8" cy="29.4" rx="5.0" ry="1.1" fill="#2e8cc0" transform="rotate(32 523.8 29.4)" fill-opacity="0.8"/>
<ellipse cx="447.0" cy="48.0" rx="4.0" ry="6.0" fill="#2e8cc0" fill-opacity="0.8"/>
<ellipse cx="470.0" cy="50.0" rx="5.0" ry="5.0" fill="#2e8cc0" fill-opacity="0.8"/>
</g>
<g filter="url(#i_navy)">
<ellipse cx="448.0" cy="70.5" rx="7.5" ry="3.0" fill="#1a1a90" fill-opacity="0.95"/>
<ellipse cx="466.0" cy="74.5" rx="9.0" ry="3.0" fill="#1a1a90" fill-opacity="0.95"/>
<ellipse cx="480.0" cy="67.0" rx="9.0" ry="3.2" fill="#1a1a90" fill-opacity="0.95"/>
<ellipse cx="488.2" cy="54.7" rx="3.3" ry="2.0" fill="#1a1a90" fill-opacity="0.95"/>
<ellipse cx="472.0" cy="71.0" rx="6.0" ry="2.5" fill="#1a1a90" fill-opacity="0.95"/>
<ellipse cx="489.0" cy="71.5" rx="4.5" ry="2.0" fill="#1a1a90" fill-opacity="0.95"/>
<ellipse cx="461.5" cy="57.0" rx="2.7" ry="1.3" fill="#1a1a90" fill-opacity="0.95"/>
<ellipse cx="477.0" cy="47.0" rx="3.0" ry="1.5" fill="#1a1a90" fill-opacity="0.95"/>
<ellipse cx="458.0" cy="62.0" rx="3.0" ry="2.0" fill="#1a1a90" fill-opacity="0.95"/>
<ellipse cx="476.0" cy="60.0" rx="3.5" ry="2.5" fill="#1a1a90" fill-opacity="0.95"/>
<ellipse cx="484.0" cy="73.0" rx="5.0" ry="2.0" fill="#1a1a90" fill-opacity="0.95"/>
</g>
<g filter="url(#i_lime)">
<ellipse cx="467.5" cy="63.8" rx="5.0" ry="3.8" fill="#e8f880" fill-opacity="0.8"/>
<ellipse cx="478.8" cy="67.6" rx="3.8" ry="1.9" fill="#e8f880" fill-opacity="0.8"/>
<ellipse cx="473.8" cy="63.8" rx="5.0" ry="5.0" fill="#e8f880" fill-opacity="0.8"/>
</g>
<ellipse cx="458.8" cy="92.0" rx="3.8" ry="1.8" fill="#1a1a90" filter="url(#b05)"/>
<ellipse cx="443.8" cy="81.4" rx="1.1" ry="1.2" fill="#1a1a90" filter="url(#b05)"/>
<ellipse cx="461.2" cy="92.0" rx="1.5" ry="1.5" fill="#1a1a90" filter="url(#b05)"/>
<ellipse cx="436.5" cy="35.6" rx="0.8" ry="1.5" fill="#146428" filter="url(#b05)"/>
<ellipse cx="503.8" cy="105.8" rx="4.8" ry="6.0" fill="#b4f060" filter="url(#b1)"/>
<ellipse cx="503.1" cy="103.9" rx="2.8" ry="2.5" fill="#4cd040" filter="url(#b05)"/>
<ellipse cx="436.9" cy="79.5" rx="1.0" ry="1.5" fill="#2e8cc0" filter="url(#b05)"/>
<ellipse cx="438.8" cy="86.4" rx="1.2" ry="0.8" fill="#1a6a60" filter="url(#b05)"/>
<ellipse cx="499.8" cy="42.2" rx="1.2" ry="1.2" fill="#6a5a50" filter="url(#b05)"/>
</g>
<rect x="400.00" y="20.00" width="128.50" height="93.40" fill="none" stroke="#cacac6" stroke-width="0.6"/>
<text x="400.3" y="109.4" font-size="14.2" letter-spacing="0.6" stroke="#111" stroke-width="0.4">(d)</text>
<g clip-path="url(#c_e)">
<rect x="510.10" y="162.20" width="128.90" height="93.90" fill="#f9fb70"/>
<g filter="url(#i_lime)" fill="#e6f870">
<ellipse cx="534.8" cy="201.6" rx="24.8" ry="18.0" fill="#e6f870" fill-opacity="0.8"/>
<ellipse cx="561.8" cy="179.0" rx="9.0" ry="9.0" fill="#e6f870" fill-opacity="0.8"/>
<ellipse cx="566.3" cy="235.4" rx="18.0" ry="11.3" fill="#e6f870" fill-opacity="0.8"/>
<ellipse cx="584.4" cy="226.3" rx="11.3" ry="6.8" fill="#e6f870" fill-opacity="0.8"/>
<ellipse cx="600.1" cy="221.8" rx="9.0" ry="4.5" fill="#e6f870" fill-opacity="0.8"/>
<ellipse cx="543.8" cy="235.4" rx="13.5" ry="9.0" fill="#e6f870" fill-opacity="0.8"/>
</g>
<g filter="url(#i_lime)" fill="#cff764">
<ellipse cx="555.1" cy="203.8" rx="13.5" ry="22.5" fill="#cff764" fill-opacity="0.8"/>
<ellipse cx="532.5" cy="202.7" rx="9.0" ry="6.8" fill="#cff764" fill-opacity="0.8"/>
<ellipse cx="568.6" cy="233.1" rx="11.3" ry="6.8" fill="#cff764" fill-opacity="0.8"/>
</g>
<g filter="url(#i_lgreen)" fill="#a0ec58">
<ellipse cx="533.7" cy="202.7" rx="5.0" ry="4.1" fill="#a0ec58" fill-opacity="0.85"/>
<ellipse cx="555.1" cy="234.2" rx="4.5" ry="2.7" fill="#a0ec58" fill-opacity="0.85"/>
<ellipse cx="586.6" cy="228.6" rx="3.4" ry="2.7" fill="#a0ec58" fill-opacity="0.85"/>
<ellipse cx="558.4" cy="194.8" rx="4.5" ry="4.5" fill="#a0ec58" fill-opacity="0.85"/>
</g>
<g filter="url(#i_green)" fill="#34d82c">
<ellipse cx="565.6" cy="188.0" rx="5.9" ry="4.3" fill="#34d82c" fill-opacity="0.95"/>
<ellipse cx="590.0" cy="213.9" rx="2.3" ry="2.3" fill="#34d82c" fill-opacity="0.95"/>
<ellipse cx="578.3" cy="204.9" rx="3.2" ry="4.5" fill="#34d82c" fill-opacity="0.95"/>
</g>
<g filter="url(#i_teal)" fill="#2e9090">
<ellipse cx="572.0" cy="198.2" rx="5.0" ry="7.2" fill="#2e9090" fill-opacity="0.95"/>
<ellipse cx="562.3" cy="207.6" rx="4.5" ry="5.0" fill="#2e9090" fill-opacity="0.95"/>
<ellipse cx="582.1" cy="217.3" rx="3.4" ry="3.4" fill="#2e9090" fill-opacity="0.95"/>
</g>
<g filter="url(#i_blue)" fill="#2c50b0">
<ellipse cx="566.3" cy="220.0" rx="7.2" ry="3.6" fill="#2c50b0" fill-opacity="0.95"/>
<ellipse cx="571.3" cy="214.6" rx="7.2" ry="4.5" fill="#2c50b0" fill-opacity="0.95"/>
<ellipse cx="578.7" cy="227.5" rx="2.9" ry="3.8" fill="#2c50b0" fill-opacity="0.95"/>
</g>
<g filter="url(#i_navy)" fill="#1a2296">
<ellipse cx="574.0" cy="210.1" rx="7.7" ry="5.4" fill="#1a2296" fill-opacity="0.95"/>
<ellipse cx="556.2" cy="233.5" rx="1.6" ry="1.1" fill="#1a2296" fill-opacity="0.95"/>
<ellipse cx="579.8" cy="228.6" rx="1.8" ry="2.3" fill="#1a2296" fill-opacity="0.95"/>
</g>
<g filter="url(#i_yel)" fill="#f0f0a0">
<ellipse cx="584.4" cy="228.6" rx="2.3" ry="1.8" fill="#f0f0a0" fill-opacity="1"/>
<ellipse cx="577.6" cy="218.5" rx="1.4" ry="1.1" fill="#f0f0a0" fill-opacity="1"/>
</g>
<path d="M551.7 161.0 C543.2 161.9 557.0 168.2 558.4 170.0 C559.9 171.8 564.9 177.4 566.3 179.0 C567.8 180.6 572.0 184.2 573.1 185.8 C574.2 187.4 576.7 193.3 577.6 194.8 C578.5 196.3 581.4 199.1 582.1 200.4 C582.8 201.8 583.7 207.2 584.4 208.3 C585.0 209.4 587.7 211.0 588.9 211.7 C590.0 212.4 594.0 214.6 595.6 215.1 C597.2 215.5 603.1 216.0 604.6 216.2 C606.2 216.4 610.0 216.6 611.4 217.3 C612.7 218.0 617.0 221.6 618.1 223.0 C619.3 224.3 621.9 229.2 622.7 230.8 C623.4 232.5 625.6 238.1 626.0 239.9 C626.5 241.7 627.2 247.1 627.2 248.9 C627.2 250.7 624.5 257.0 626.0 257.9 C627.6 258.8 641.2 267.6 642.9 257.9 C644.6 248.2 652.1 170.7 642.9 161.0 C633.8 151.3 560.1 160.1 551.7 161.0Z" fill="#ffffff" />
</g>
<rect x="510.10" y="162.20" width="128.90" height="93.90" fill="none" stroke="#cacac6" stroke-width="0.6"/>
<text x="510.4" y="252.1" font-size="14.2" letter-spacing="0.6" stroke="#111" stroke-width="0.4">(e)</text>
</svg>
</body></html>
